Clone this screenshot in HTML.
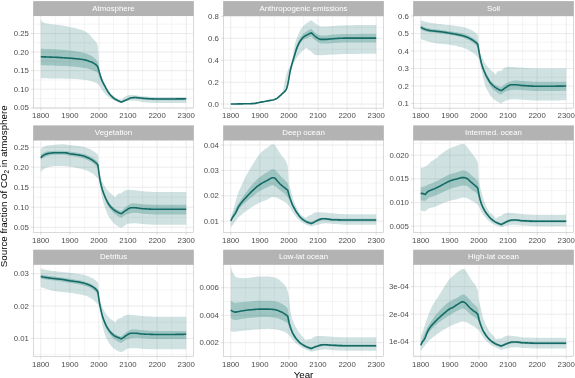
<!DOCTYPE html><html><head><meta charset="utf-8"><style>html,body{margin:0;padding:0;background:#fff}svg{display:block;will-change:transform}text{font-family:"Liberation Sans",sans-serif}</style></head><body>
<svg width="575" height="378" viewBox="0 0 575 378">
<rect width="575" height="378" fill="#fff"/>
<clipPath id="c00"><rect x="33.50" y="15.70" width="160.00" height="92.40"/></clipPath>
<rect x="33.15" y="1.10" width="160.70" height="14.95" fill="#b3b3b3"/>
<text x="113.50" y="10.70" font-size="7.9" fill="#fff" text-anchor="middle">Atmosphere</text>
<g clip-path="url(#c00)">
<line x1="55.32" x2="55.32" y1="15.70" y2="108.10" stroke="#e6e6e6" stroke-width="0.4"/>
<line x1="84.41" x2="84.41" y1="15.70" y2="108.10" stroke="#e6e6e6" stroke-width="0.4"/>
<line x1="113.50" x2="113.50" y1="15.70" y2="108.10" stroke="#e6e6e6" stroke-width="0.4"/>
<line x1="142.59" x2="142.59" y1="15.70" y2="108.10" stroke="#e6e6e6" stroke-width="0.4"/>
<line x1="171.68" x2="171.68" y1="15.70" y2="108.10" stroke="#e6e6e6" stroke-width="0.4"/>
<line x1="33.50" x2="193.50" y1="24.20" y2="24.20" stroke="#e6e6e6" stroke-width="0.4"/>
<line x1="33.50" x2="193.50" y1="42.80" y2="42.80" stroke="#e6e6e6" stroke-width="0.4"/>
<line x1="33.50" x2="193.50" y1="61.40" y2="61.40" stroke="#e6e6e6" stroke-width="0.4"/>
<line x1="33.50" x2="193.50" y1="80.00" y2="80.00" stroke="#e6e6e6" stroke-width="0.4"/>
<line x1="33.50" x2="193.50" y1="98.50" y2="98.50" stroke="#e6e6e6" stroke-width="0.4"/>
<line x1="40.77" x2="40.77" y1="15.70" y2="108.10" stroke="#e0e0e0" stroke-width="0.65"/>
<line x1="69.86" x2="69.86" y1="15.70" y2="108.10" stroke="#e0e0e0" stroke-width="0.65"/>
<line x1="98.95" x2="98.95" y1="15.70" y2="108.10" stroke="#e0e0e0" stroke-width="0.65"/>
<line x1="128.04" x2="128.04" y1="15.70" y2="108.10" stroke="#e0e0e0" stroke-width="0.65"/>
<line x1="157.13" x2="157.13" y1="15.70" y2="108.10" stroke="#e0e0e0" stroke-width="0.65"/>
<line x1="186.23" x2="186.23" y1="15.70" y2="108.10" stroke="#e0e0e0" stroke-width="0.65"/>
<line x1="33.50" x2="193.50" y1="33.50" y2="33.50" stroke="#e0e0e0" stroke-width="0.65"/>
<line x1="33.50" x2="193.50" y1="52.10" y2="52.10" stroke="#e0e0e0" stroke-width="0.65"/>
<line x1="33.50" x2="193.50" y1="70.70" y2="70.70" stroke="#e0e0e0" stroke-width="0.65"/>
<line x1="33.50" x2="193.50" y1="89.20" y2="89.20" stroke="#e0e0e0" stroke-width="0.65"/>
<line x1="33.50" x2="193.50" y1="107.80" y2="107.80" stroke="#e0e0e0" stroke-width="0.65"/>
<path d="M40.8 19.6 L41.9 21.4 L43.1 22.2 L44.3 22.7 L45.4 23.1 L46.6 23.4 L47.8 23.6 L48.9 23.8 L50.1 24.0 L51.2 24.2 L52.4 24.3 L53.6 24.4 L54.7 24.5 L55.9 24.7 L57.1 24.8 L58.2 24.9 L59.4 25.1 L60.6 25.2 L61.7 25.4 L62.9 25.5 L64.0 25.8 L65.2 26.0 L66.4 26.3 L67.5 26.6 L68.7 26.8 L69.9 27.1 L71.0 27.4 L72.2 27.6 L73.4 27.8 L74.5 28.1 L75.7 28.3 L76.8 28.6 L78.0 28.9 L79.2 29.2 L80.3 29.5 L81.5 29.8 L82.7 30.2 L83.8 30.7 L85.0 31.2 L86.2 31.9 L87.3 32.8 L88.5 33.7 L89.6 34.8 L90.8 36.1 L92.0 37.4 L93.1 38.7 L94.3 40.0 L95.5 41.4 L96.6 42.7 L97.8 45.9 L98.4 54.0 L99.5 71.0 L100.7 74.5 L101.9 76.8 L103.0 79.6 L104.2 82.3 L105.4 84.7 L106.5 87.0 L107.7 89.0 L108.8 90.8 L110.0 92.5 L111.2 93.9 L112.3 95.0 L113.5 96.0 L114.7 96.8 L115.8 97.6 L117.0 98.3 L118.2 98.9 L119.3 99.4 L120.5 99.6 L121.6 99.4 L122.8 98.6 L124.0 97.6 L125.1 96.7 L126.3 96.0 L127.5 95.5 L128.6 95.2 L129.8 95.1 L131.0 95.0 L132.1 95.0 L133.3 95.1 L134.4 95.2 L135.6 95.3 L136.8 95.5 L137.9 95.6 L139.1 95.8 L140.3 96.0 L141.4 96.2 L142.6 96.3 L143.8 96.4 L144.9 96.5 L146.1 96.6 L147.2 96.6 L148.4 96.7 L149.6 96.8 L150.7 96.8 L151.9 96.9 L153.1 96.9 L154.2 97.0 L155.4 97.0 L156.6 97.0 L157.7 97.0 L158.9 97.0 L160.0 97.0 L161.2 97.0 L162.4 97.0 L163.5 97.0 L164.7 97.0 L165.9 97.0 L167.0 97.0 L168.2 97.0 L169.4 97.0 L170.5 97.0 L171.7 97.0 L172.8 97.0 L174.0 97.0 L175.2 97.0 L176.3 97.0 L177.5 97.0 L178.7 97.0 L179.8 97.0 L181.0 97.0 L182.2 97.0 L183.3 97.0 L184.5 97.0 L185.6 97.0 L186.2 97.0 L186.2 103.0 L185.6 103.0 L184.5 103.0 L183.3 103.0 L182.2 103.0 L181.0 103.0 L179.8 103.0 L178.7 103.0 L177.5 103.0 L176.3 103.0 L175.2 103.0 L174.0 103.0 L172.8 103.0 L171.7 103.0 L170.5 103.0 L169.4 103.0 L168.2 103.0 L167.0 103.0 L165.9 103.0 L164.7 103.0 L163.5 103.0 L162.4 103.0 L161.2 103.0 L160.0 103.0 L158.9 103.0 L157.7 103.0 L156.6 103.0 L155.4 103.0 L154.2 102.9 L153.1 102.9 L151.9 102.8 L150.7 102.7 L149.6 102.7 L148.4 102.6 L147.2 102.5 L146.1 102.4 L144.9 102.2 L143.8 102.1 L142.6 102.0 L141.4 101.8 L140.3 101.6 L139.1 101.3 L137.9 101.1 L136.8 100.9 L135.6 100.8 L134.4 100.8 L133.3 100.8 L132.1 100.8 L131.0 100.8 L129.8 100.8 L128.6 100.8 L127.5 100.8 L126.3 101.0 L125.1 101.4 L124.0 102.0 L122.8 102.6 L121.6 103.2 L121.1 103.1 L119.9 102.8 L118.7 102.4 L117.6 102.0 L116.4 101.5 L115.2 101.0 L114.1 100.5 L112.9 99.9 L111.8 99.2 L110.6 98.5 L109.4 97.7 L108.3 96.8 L107.1 95.8 L105.9 94.7 L104.8 93.5 L103.6 92.1 L102.4 90.5 L101.3 88.8 L100.1 86.8 L99.0 85.2 L97.8 84.1 L96.6 83.3 L95.5 82.7 L94.3 82.2 L93.1 81.7 L92.0 81.4 L90.8 81.1 L89.6 80.8 L88.5 80.5 L87.3 80.2 L86.2 80.0 L85.0 79.9 L83.8 79.7 L82.7 79.6 L81.5 79.5 L80.3 79.4 L79.2 79.3 L78.0 79.2 L76.8 79.1 L75.7 79.1 L74.5 79.0 L73.4 78.9 L72.2 78.9 L71.0 78.8 L69.9 78.8 L68.7 78.8 L67.5 78.7 L66.4 78.7 L65.2 78.7 L64.0 78.7 L62.9 78.6 L61.7 78.6 L60.6 78.6 L59.4 78.6 L58.2 78.6 L57.1 78.5 L55.9 78.5 L54.7 78.5 L53.6 78.5 L52.4 78.4 L51.2 78.4 L50.1 78.4 L48.9 78.4 L47.8 78.3 L46.6 78.3 L45.4 78.3 L44.3 78.3 L43.1 78.2 L41.9 78.2 L40.8 78.2 Z" fill="#1b7570" fill-opacity="0.21"/>
<path d="M40.8 48.8 L41.9 48.8 L43.1 48.8 L44.3 48.9 L45.4 48.9 L46.6 48.9 L47.8 49.0 L48.9 49.0 L50.1 49.1 L51.2 49.1 L52.4 49.2 L53.6 49.2 L54.7 49.3 L55.9 49.3 L57.1 49.4 L58.2 49.5 L59.4 49.5 L60.6 49.6 L61.7 49.7 L62.9 49.8 L64.0 49.9 L65.2 50.0 L66.4 50.1 L67.5 50.2 L68.7 50.4 L69.9 50.5 L71.0 50.6 L72.2 50.8 L73.4 50.9 L74.5 51.1 L75.7 51.3 L76.8 51.4 L78.0 51.6 L79.2 51.9 L80.3 52.1 L81.5 52.3 L82.7 52.6 L83.8 52.9 L85.0 53.2 L86.2 53.5 L87.3 53.9 L88.5 54.4 L89.6 54.9 L90.8 55.5 L92.0 56.2 L93.1 57.0 L94.3 57.9 L95.5 59.1 L96.6 60.4 L97.8 62.6 L99.0 67.5 L100.1 72.2 L101.3 76.7 L102.4 80.0 L103.6 82.5 L104.8 84.8 L105.9 87.1 L107.1 89.2 L108.3 91.1 L109.4 92.8 L110.6 94.2 L111.8 95.5 L112.9 96.6 L114.1 97.4 L115.2 98.2 L116.4 98.9 L117.6 99.6 L118.7 100.1 L119.9 100.6 L121.1 100.9 L121.6 101.0 L122.8 100.4 L124.0 99.9 L125.1 99.4 L126.3 98.9 L127.5 98.5 L128.6 98.1 L129.8 97.7 L131.0 97.4 L132.1 97.1 L133.3 96.8 L134.4 96.6 L135.6 96.6 L136.8 96.7 L137.9 96.8 L139.1 97.0 L140.3 97.1 L141.4 97.3 L142.6 97.4 L143.8 97.5 L144.9 97.5 L146.1 97.6 L147.2 97.7 L148.4 97.7 L149.6 97.8 L150.7 97.9 L151.9 97.9 L153.1 97.9 L154.2 98.0 L155.4 98.0 L156.6 98.0 L157.7 98.0 L158.9 98.0 L160.0 98.0 L161.2 98.0 L162.4 98.0 L163.5 98.0 L164.7 98.0 L165.9 98.0 L167.0 98.0 L168.2 98.0 L169.4 98.0 L170.5 98.0 L171.7 98.0 L172.8 98.0 L174.0 98.0 L175.2 98.0 L176.3 98.0 L177.5 98.0 L178.7 98.0 L179.8 98.0 L181.0 98.0 L182.2 98.0 L183.3 98.0 L184.5 98.0 L185.6 98.0 L186.2 98.0 L186.2 100.3 L185.6 100.3 L184.5 100.3 L183.3 100.3 L182.2 100.3 L181.0 100.3 L179.8 100.3 L178.7 100.3 L177.5 100.3 L176.3 100.3 L175.2 100.3 L174.0 100.3 L172.8 100.3 L171.7 100.3 L170.5 100.3 L169.4 100.3 L168.2 100.3 L167.0 100.3 L165.9 100.3 L164.7 100.3 L163.5 100.3 L162.4 100.3 L161.2 100.3 L160.0 100.3 L158.9 100.3 L157.7 100.3 L156.6 100.3 L155.4 100.3 L154.2 100.2 L153.1 100.2 L151.9 100.1 L150.7 100.1 L149.6 100.0 L148.4 99.9 L147.2 99.8 L146.1 99.7 L144.9 99.6 L143.8 99.5 L142.6 99.4 L141.4 99.3 L140.3 99.1 L139.1 98.9 L137.9 98.7 L136.8 98.6 L135.6 98.5 L134.4 98.5 L133.3 98.6 L132.1 98.8 L131.0 99.1 L129.8 99.4 L128.6 99.7 L127.5 100.0 L126.3 100.4 L125.1 100.8 L124.0 101.4 L122.8 102.0 L121.6 102.6 L121.1 102.5 L119.9 102.2 L118.7 101.7 L117.6 101.2 L116.4 100.6 L115.2 99.9 L114.1 99.2 L112.9 98.4 L111.8 97.4 L110.6 96.2 L109.4 94.9 L108.3 93.3 L107.1 91.6 L105.9 89.6 L104.8 87.5 L103.6 85.6 L102.4 83.6 L101.3 81.3 L100.1 78.7 L99.0 76.0 L97.8 73.1 L96.6 72.1 L95.5 71.5 L94.3 70.9 L93.1 70.4 L92.0 69.9 L90.8 69.5 L89.6 69.2 L88.5 68.9 L87.3 68.6 L86.2 68.3 L85.0 68.1 L83.8 67.9 L82.7 67.7 L81.5 67.5 L80.3 67.4 L79.2 67.2 L78.0 67.1 L76.8 66.9 L75.7 66.8 L74.5 66.7 L73.4 66.6 L72.2 66.5 L71.0 66.4 L69.9 66.3 L68.7 66.2 L67.5 66.2 L66.4 66.1 L65.2 66.1 L64.0 66.0 L62.9 66.0 L61.7 65.9 L60.6 65.9 L59.4 65.8 L58.2 65.8 L57.1 65.8 L55.9 65.7 L54.7 65.7 L53.6 65.6 L52.4 65.6 L51.2 65.6 L50.1 65.5 L48.9 65.5 L47.8 65.4 L46.6 65.4 L45.4 65.3 L44.3 65.3 L43.1 65.3 L41.9 65.2 L40.8 65.2 Z" fill="#1b7570" fill-opacity="0.27"/>
<path d="M40.8 56.8 L41.9 56.8 L43.1 56.9 L44.3 56.9 L45.4 56.9 L46.6 57.0 L47.8 57.0 L48.9 57.0 L50.1 57.1 L51.2 57.1 L52.4 57.2 L53.6 57.2 L54.7 57.3 L55.9 57.3 L57.1 57.4 L58.2 57.4 L59.4 57.5 L60.6 57.6 L61.7 57.6 L62.9 57.7 L64.0 57.8 L65.2 57.9 L66.4 58.0 L67.5 58.0 L68.7 58.1 L69.9 58.2 L71.0 58.3 L72.2 58.4 L73.4 58.5 L74.5 58.6 L75.7 58.7 L76.8 58.8 L78.0 58.9 L79.2 59.0 L80.3 59.2 L81.5 59.3 L82.7 59.5 L83.8 59.7 L85.0 59.9 L86.2 60.2 L87.3 60.5 L88.5 60.9 L89.6 61.4 L90.8 61.8 L92.0 62.3 L93.1 62.9 L94.3 63.6 L95.5 64.4 L96.6 65.3 L97.8 66.9 L99.0 71.0 L100.1 74.9 L101.3 78.6 L102.4 81.5 L103.6 83.8 L104.8 86.0 L105.9 88.2 L107.1 90.4 L108.3 92.2 L109.4 93.8 L110.6 95.2 L111.8 96.4 L112.9 97.5 L114.1 98.4 L115.2 99.2 L116.4 99.8 L117.6 100.4 L118.7 100.9 L119.9 101.5 L121.1 101.9 L121.6 102.1 L122.8 101.4 L124.0 100.9 L125.1 100.4 L126.3 99.9 L127.5 99.5 L128.6 98.9 L129.8 98.2 L131.0 97.8 L132.1 97.7 L133.3 97.6 L134.4 97.5 L135.6 97.5 L136.8 97.6 L137.9 97.7 L139.1 97.9 L140.3 98.0 L141.4 98.2 L142.6 98.3 L143.8 98.4 L144.9 98.5 L146.1 98.5 L147.2 98.6 L148.4 98.7 L149.6 98.8 L150.7 98.8 L151.9 98.9 L153.1 98.9 L154.2 99.0 L155.4 99.0 L156.6 99.0 L157.7 99.0 L158.9 99.0 L160.0 99.0 L161.2 99.0 L162.4 99.0 L163.5 99.0 L164.7 99.0 L165.9 99.0 L167.0 99.0 L168.2 99.0 L169.4 99.0 L170.5 99.0 L171.7 99.0 L172.8 99.0 L174.0 99.0 L175.2 99.0 L176.3 98.9 L177.5 98.9 L178.7 98.9 L179.8 98.9 L181.0 98.9 L182.2 98.9 L183.3 98.9 L184.5 98.8 L185.6 98.8 L186.2 98.8" fill="none" stroke="#146b66" stroke-width="1.6" stroke-linejoin="round"/>
</g>
<rect x="33.50" y="15.70" width="160.00" height="92.40" fill="none" stroke="#b3b3b3" stroke-width="0.5"/>
<line x1="30.90" x2="33.50" y1="33.50" y2="33.50" stroke="#b3b3b3" stroke-width="0.4"/>
<text x="28.90" y="36.15" font-size="7.8" fill="#4d4d4d" text-anchor="end">0.25</text>
<line x1="30.90" x2="33.50" y1="52.10" y2="52.10" stroke="#b3b3b3" stroke-width="0.4"/>
<text x="28.90" y="54.75" font-size="7.8" fill="#4d4d4d" text-anchor="end">0.20</text>
<line x1="30.90" x2="33.50" y1="70.70" y2="70.70" stroke="#b3b3b3" stroke-width="0.4"/>
<text x="28.90" y="73.35" font-size="7.8" fill="#4d4d4d" text-anchor="end">0.15</text>
<line x1="30.90" x2="33.50" y1="89.20" y2="89.20" stroke="#b3b3b3" stroke-width="0.4"/>
<text x="28.90" y="91.85" font-size="7.8" fill="#4d4d4d" text-anchor="end">0.10</text>
<line x1="30.90" x2="33.50" y1="107.80" y2="107.80" stroke="#b3b3b3" stroke-width="0.4"/>
<text x="28.90" y="110.45" font-size="7.8" fill="#4d4d4d" text-anchor="end">0.05</text>
<line x1="40.77" x2="40.77" y1="108.10" y2="110.70" stroke="#b3b3b3" stroke-width="0.4"/>
<text x="40.77" y="118.40" font-size="7.8" fill="#4d4d4d" text-anchor="middle">1800</text>
<line x1="69.86" x2="69.86" y1="108.10" y2="110.70" stroke="#b3b3b3" stroke-width="0.4"/>
<text x="69.86" y="118.40" font-size="7.8" fill="#4d4d4d" text-anchor="middle">1900</text>
<line x1="98.95" x2="98.95" y1="108.10" y2="110.70" stroke="#b3b3b3" stroke-width="0.4"/>
<text x="98.95" y="118.40" font-size="7.8" fill="#4d4d4d" text-anchor="middle">2000</text>
<line x1="128.04" x2="128.04" y1="108.10" y2="110.70" stroke="#b3b3b3" stroke-width="0.4"/>
<text x="128.04" y="118.40" font-size="7.8" fill="#4d4d4d" text-anchor="middle">2100</text>
<line x1="157.13" x2="157.13" y1="108.10" y2="110.70" stroke="#b3b3b3" stroke-width="0.4"/>
<text x="157.13" y="118.40" font-size="7.8" fill="#4d4d4d" text-anchor="middle">2200</text>
<line x1="186.23" x2="186.23" y1="108.10" y2="110.70" stroke="#b3b3b3" stroke-width="0.4"/>
<text x="186.23" y="118.40" font-size="7.8" fill="#4d4d4d" text-anchor="middle">2300</text>
<clipPath id="c10"><rect x="223.50" y="15.70" width="160.00" height="92.40"/></clipPath>
<rect x="223.15" y="1.10" width="160.70" height="14.95" fill="#b3b3b3"/>
<text x="303.50" y="10.70" font-size="7.9" fill="#fff" text-anchor="middle">Anthropogenic emissions</text>
<g clip-path="url(#c10)">
<line x1="245.32" x2="245.32" y1="15.70" y2="108.10" stroke="#e6e6e6" stroke-width="0.4"/>
<line x1="274.41" x2="274.41" y1="15.70" y2="108.10" stroke="#e6e6e6" stroke-width="0.4"/>
<line x1="303.50" x2="303.50" y1="15.70" y2="108.10" stroke="#e6e6e6" stroke-width="0.4"/>
<line x1="332.59" x2="332.59" y1="15.70" y2="108.10" stroke="#e6e6e6" stroke-width="0.4"/>
<line x1="361.68" x2="361.68" y1="15.70" y2="108.10" stroke="#e6e6e6" stroke-width="0.4"/>
<line x1="223.50" x2="383.50" y1="27.30" y2="27.30" stroke="#e6e6e6" stroke-width="0.4"/>
<line x1="223.50" x2="383.50" y1="49.20" y2="49.20" stroke="#e6e6e6" stroke-width="0.4"/>
<line x1="223.50" x2="383.50" y1="71.20" y2="71.20" stroke="#e6e6e6" stroke-width="0.4"/>
<line x1="223.50" x2="383.50" y1="93.10" y2="93.10" stroke="#e6e6e6" stroke-width="0.4"/>
<line x1="230.77" x2="230.77" y1="15.70" y2="108.10" stroke="#e0e0e0" stroke-width="0.65"/>
<line x1="259.86" x2="259.86" y1="15.70" y2="108.10" stroke="#e0e0e0" stroke-width="0.65"/>
<line x1="288.95" x2="288.95" y1="15.70" y2="108.10" stroke="#e0e0e0" stroke-width="0.65"/>
<line x1="318.04" x2="318.04" y1="15.70" y2="108.10" stroke="#e0e0e0" stroke-width="0.65"/>
<line x1="347.13" x2="347.13" y1="15.70" y2="108.10" stroke="#e0e0e0" stroke-width="0.65"/>
<line x1="376.23" x2="376.23" y1="15.70" y2="108.10" stroke="#e0e0e0" stroke-width="0.65"/>
<line x1="223.50" x2="383.50" y1="16.30" y2="16.30" stroke="#e0e0e0" stroke-width="0.65"/>
<line x1="223.50" x2="383.50" y1="38.25" y2="38.25" stroke="#e0e0e0" stroke-width="0.65"/>
<line x1="223.50" x2="383.50" y1="60.20" y2="60.20" stroke="#e0e0e0" stroke-width="0.65"/>
<line x1="223.50" x2="383.50" y1="82.20" y2="82.20" stroke="#e0e0e0" stroke-width="0.65"/>
<line x1="223.50" x2="383.50" y1="104.10" y2="104.10" stroke="#e0e0e0" stroke-width="0.65"/>
<path d="M230.8 103.5 L231.9 103.5 L233.1 103.5 L234.3 103.5 L235.4 103.5 L236.6 103.5 L237.8 103.5 L238.9 103.4 L240.1 103.4 L241.2 103.4 L242.4 103.4 L243.6 103.4 L244.7 103.3 L245.9 103.3 L247.1 103.3 L248.2 103.2 L249.4 103.2 L250.6 103.1 L251.7 103.1 L252.9 103.1 L254.0 103.0 L255.2 102.9 L256.4 102.7 L257.5 102.4 L258.7 102.1 L259.9 101.8 L261.0 101.6 L262.2 101.4 L263.4 101.2 L264.5 101.0 L265.7 100.8 L266.8 100.6 L268.0 100.4 L269.2 100.2 L270.3 99.9 L271.5 99.7 L272.7 99.3 L273.8 99.0 L275.0 98.6 L276.2 97.9 L277.3 97.2 L278.5 96.2 L279.6 95.3 L280.8 94.4 L282.0 93.3 L283.1 90.5 L284.3 84.0 L285.5 77.9 L286.6 73.6 L287.8 70.5 L288.7 68.8 L289.8 66.7 L291.0 64.1 L292.2 60.2 L293.3 52.9 L294.5 45.2 L295.6 41.2 L296.8 38.0 L298.0 35.2 L299.1 32.5 L300.3 30.1 L301.5 28.3 L302.6 26.8 L303.8 25.6 L305.0 24.5 L306.1 23.6 L307.3 22.8 L308.4 22.0 L309.6 21.2 L310.8 20.6 L311.4 20.2 L312.5 21.2 L313.7 22.1 L314.8 23.0 L316.0 23.9 L317.2 24.7 L318.3 25.4 L319.5 26.0 L320.7 26.4 L321.8 26.5 L323.0 26.5 L324.2 26.6 L325.3 26.6 L326.5 26.6 L327.6 26.5 L328.8 26.4 L330.0 26.2 L331.1 26.1 L332.3 26.0 L333.5 25.9 L334.6 25.9 L335.8 25.8 L337.0 25.7 L338.1 25.6 L339.3 25.6 L340.4 25.5 L341.6 25.4 L342.8 25.4 L343.9 25.3 L345.1 25.3 L346.3 25.3 L347.4 25.2 L348.6 25.2 L349.8 25.2 L350.9 25.2 L352.1 25.2 L353.2 25.2 L354.4 25.1 L355.6 25.1 L356.7 25.1 L357.9 25.1 L359.1 25.1 L360.2 25.1 L361.4 25.1 L362.6 25.1 L363.7 25.0 L364.9 25.0 L366.0 25.0 L367.2 25.0 L368.4 25.0 L369.5 25.0 L370.7 25.0 L371.9 25.0 L373.0 25.0 L374.2 25.0 L375.4 25.0 L376.2 25.0 L376.2 53.8 L375.4 53.8 L374.2 53.8 L373.0 53.8 L371.9 53.8 L370.7 53.8 L369.5 53.8 L368.4 53.8 L367.2 53.8 L366.0 53.8 L364.9 53.8 L363.7 53.8 L362.6 53.8 L361.4 53.8 L360.2 53.8 L359.1 53.8 L357.9 53.9 L356.7 53.9 L355.6 53.9 L354.4 53.9 L353.2 53.9 L352.1 53.9 L350.9 53.9 L349.8 54.0 L348.6 54.0 L347.4 54.0 L346.3 54.0 L345.1 54.0 L343.9 54.1 L342.8 54.1 L341.6 54.2 L340.4 54.2 L339.3 54.3 L338.1 54.3 L337.0 54.4 L335.8 54.4 L334.6 54.5 L333.5 54.6 L332.3 54.6 L331.1 54.7 L330.0 54.7 L328.8 54.8 L327.6 54.9 L326.5 54.9 L325.3 55.0 L324.2 55.1 L323.0 55.2 L321.8 55.2 L320.7 55.2 L319.5 55.2 L318.3 55.2 L317.2 55.2 L316.0 55.2 L314.8 54.7 L313.7 54.0 L312.5 53.0 L311.4 51.5 L311.1 51.4 L309.9 50.8 L308.7 50.0 L307.6 49.0 L306.4 47.8 L305.2 48.4 L304.1 49.7 L302.9 50.8 L301.8 51.8 L300.6 53.0 L299.4 54.3 L298.3 55.7 L297.1 57.3 L295.9 58.9 L294.8 60.9 L293.6 63.8 L292.4 66.6 L291.3 69.5 L290.1 73.6 L289.0 80.0 L287.8 86.0 L286.6 89.6 L285.5 91.7 L284.3 93.0 L283.1 94.1 L282.0 95.1 L280.8 96.0 L279.6 97.0 L278.5 97.9 L277.3 98.7 L276.2 99.4 L275.0 100.0 L273.8 100.4 L272.7 100.7 L271.5 101.0 L270.3 101.3 L269.2 101.5 L268.0 101.7 L266.8 101.9 L265.7 102.1 L264.5 102.3 L263.4 102.4 L262.2 102.6 L261.0 102.7 L259.9 102.8 L258.7 102.9 L257.5 103.0 L256.4 103.1 L255.2 103.2 L254.0 103.3 L252.9 103.4 L251.7 103.5 L250.6 103.6 L249.4 103.7 L248.2 103.8 L247.1 103.9 L245.9 104.0 L244.7 104.0 L243.6 104.1 L242.4 104.2 L241.2 104.2 L240.1 104.3 L238.9 104.3 L237.8 104.4 L236.6 104.4 L235.4 104.4 L234.3 104.5 L233.1 104.5 L231.9 104.5 L230.8 104.5 Z" fill="#1b7570" fill-opacity="0.21"/>
<path d="M230.8 103.7 L231.9 103.7 L233.1 103.7 L234.3 103.7 L235.4 103.6 L236.6 103.6 L237.8 103.6 L238.9 103.5 L240.1 103.5 L241.2 103.4 L242.4 103.4 L243.6 103.3 L244.7 103.2 L245.9 103.2 L247.1 103.1 L248.2 103.0 L249.4 102.9 L250.6 102.8 L251.7 102.7 L252.9 102.6 L254.0 102.5 L255.2 102.4 L256.4 102.3 L257.5 102.2 L258.7 102.1 L259.9 102.0 L261.0 101.9 L262.2 101.7 L263.4 101.6 L264.5 101.4 L265.7 101.2 L266.8 101.0 L268.0 100.8 L269.2 100.5 L270.3 100.2 L271.5 99.9 L272.7 99.6 L273.8 99.2 L275.0 98.8 L276.2 98.2 L277.3 97.5 L278.5 96.7 L279.6 95.7 L280.8 94.8 L282.0 93.7 L283.1 92.7 L284.3 91.6 L285.5 90.0 L286.6 87.5 L287.8 83.0 L289.0 76.5 L290.1 69.9 L291.3 65.0 L292.4 60.7 L293.6 56.4 L294.8 52.0 L295.9 47.8 L297.1 44.0 L298.3 41.2 L299.4 39.0 L300.6 37.1 L301.8 35.4 L302.9 34.0 L304.1 32.9 L305.2 32.2 L306.4 31.5 L307.6 30.8 L308.7 30.1 L309.9 29.5 L311.1 28.9 L311.4 28.8 L312.5 30.1 L313.7 31.2 L314.8 32.3 L316.0 33.3 L317.2 34.2 L318.3 34.7 L319.5 35.1 L320.7 35.4 L321.8 35.4 L323.0 35.5 L324.2 35.5 L325.3 35.5 L326.5 35.4 L327.6 35.3 L328.8 35.1 L330.0 34.9 L331.1 34.8 L332.3 34.6 L333.5 34.5 L334.6 34.5 L335.8 34.4 L337.0 34.3 L338.1 34.3 L339.3 34.2 L340.4 34.2 L341.6 34.1 L342.8 34.1 L343.9 34.1 L345.1 34.0 L346.3 34.0 L347.4 34.0 L348.6 34.0 L349.8 34.0 L350.9 33.9 L352.1 33.9 L353.2 33.9 L354.4 33.9 L355.6 33.9 L356.7 33.9 L357.9 33.9 L359.1 33.8 L360.2 33.8 L361.4 33.8 L362.6 33.8 L363.7 33.8 L364.9 33.8 L366.0 33.8 L367.2 33.8 L368.4 33.8 L369.5 33.8 L370.7 33.8 L371.9 33.8 L373.0 33.8 L374.2 33.8 L375.4 33.8 L376.2 33.8 L376.2 42.5 L375.4 42.5 L374.2 42.5 L373.0 42.5 L371.9 42.5 L370.7 42.5 L369.5 42.5 L368.4 42.5 L367.2 42.5 L366.0 42.5 L364.9 42.5 L363.7 42.5 L362.6 42.5 L361.4 42.5 L360.2 42.5 L359.1 42.5 L357.9 42.5 L356.7 42.5 L355.6 42.5 L354.4 42.5 L353.2 42.5 L352.1 42.5 L350.9 42.5 L349.8 42.5 L348.6 42.5 L347.4 42.5 L346.3 42.5 L345.1 42.5 L343.9 42.5 L342.8 42.6 L341.6 42.6 L340.4 42.7 L339.3 42.7 L338.1 42.8 L337.0 42.9 L335.8 42.9 L334.6 43.0 L333.5 43.1 L332.3 43.1 L331.1 43.2 L330.0 43.3 L328.8 43.4 L327.6 43.4 L326.5 43.5 L325.3 43.5 L324.2 43.5 L323.0 43.5 L321.8 43.5 L320.7 43.5 L319.5 43.0 L318.3 42.3 L317.2 41.6 L316.0 40.8 L314.8 40.0 L313.7 39.0 L312.5 37.8 L311.4 36.3 L311.1 36.4 L309.9 36.9 L308.7 37.4 L307.6 37.9 L306.4 38.4 L305.2 38.8 L304.1 39.3 L302.9 40.0 L301.8 41.2 L300.6 42.8 L299.4 44.9 L298.3 47.6 L297.1 50.5 L295.9 53.7 L294.8 57.0 L293.6 60.4 L292.4 64.0 L291.3 68.0 L290.1 72.9 L289.0 79.5 L287.8 85.5 L286.6 89.2 L285.5 91.4 L284.3 92.8 L283.1 93.8 L282.0 94.8 L280.8 95.7 L279.6 96.7 L278.5 97.7 L277.3 98.5 L276.2 99.2 L275.0 99.8 L273.8 100.2 L272.7 100.5 L271.5 100.8 L270.3 101.1 L269.2 101.3 L268.0 101.5 L266.8 101.7 L265.7 101.9 L264.5 102.1 L263.4 102.2 L262.2 102.4 L261.0 102.5 L259.9 102.6 L258.7 102.7 L257.5 102.8 L256.4 102.9 L255.2 103.0 L254.0 103.1 L252.9 103.2 L251.7 103.3 L250.6 103.4 L249.4 103.5 L248.2 103.6 L247.1 103.7 L245.9 103.8 L244.7 103.8 L243.6 103.9 L242.4 104.0 L241.2 104.0 L240.1 104.1 L238.9 104.1 L237.8 104.2 L236.6 104.2 L235.4 104.2 L234.3 104.3 L233.1 104.3 L231.9 104.3 L230.8 104.3 Z" fill="#1b7570" fill-opacity="0.27"/>
<path d="M230.8 104.0 L231.9 104.0 L233.1 104.0 L234.3 104.0 L235.4 104.0 L236.6 104.0 L237.8 103.9 L238.9 103.9 L240.1 103.9 L241.2 103.9 L242.4 103.9 L243.6 103.8 L244.7 103.8 L245.9 103.8 L247.1 103.8 L248.2 103.7 L249.4 103.7 L250.6 103.7 L251.7 103.6 L252.9 103.6 L254.0 103.5 L255.2 103.4 L256.4 103.1 L257.5 102.8 L258.7 102.6 L259.9 102.3 L261.0 102.1 L262.2 101.9 L263.4 101.7 L264.5 101.5 L265.7 101.3 L266.8 101.1 L268.0 100.8 L269.2 100.6 L270.3 100.4 L271.5 100.2 L272.7 100.0 L273.8 99.7 L275.0 99.3 L276.2 98.8 L277.3 98.1 L278.5 97.2 L279.6 96.1 L280.8 95.1 L282.0 93.9 L283.1 92.8 L284.3 91.8 L285.5 90.7 L286.6 88.9 L287.8 84.4 L289.0 78.1 L290.1 71.4 L291.3 66.5 L292.4 62.4 L293.6 58.4 L294.8 54.5 L295.9 50.8 L297.1 47.3 L298.3 44.6 L299.4 42.4 L300.6 40.5 L301.8 38.9 L302.9 37.6 L304.1 36.7 L305.2 35.9 L306.4 35.2 L307.6 34.6 L308.7 34.0 L309.9 33.4 L311.1 32.9 L311.4 32.8 L312.5 33.9 L313.7 35.0 L314.8 36.0 L316.0 37.0 L317.2 37.9 L318.3 38.5 L319.5 39.1 L320.7 39.4 L321.8 39.4 L323.0 39.4 L324.2 39.4 L325.3 39.4 L326.5 39.4 L327.6 39.3 L328.8 39.1 L330.0 39.0 L331.1 38.9 L332.3 38.8 L333.5 38.7 L334.6 38.6 L335.8 38.5 L337.0 38.5 L338.1 38.4 L339.3 38.3 L340.4 38.3 L341.6 38.2 L342.8 38.2 L343.9 38.1 L345.1 38.1 L346.3 38.1 L347.4 38.1 L348.6 38.1 L349.8 38.1 L350.9 38.1 L352.1 38.1 L353.2 38.1 L354.4 38.1 L355.6 38.1 L356.7 38.1 L357.9 38.1 L359.1 38.1 L360.2 38.1 L361.4 38.1 L362.6 38.1 L363.7 38.1 L364.9 38.1 L366.0 38.1 L367.2 38.1 L368.4 38.1 L369.5 38.1 L370.7 38.1 L371.9 38.1 L373.0 38.1 L374.2 38.1 L375.4 38.1 L376.2 38.1" fill="none" stroke="#146b66" stroke-width="1.6" stroke-linejoin="round"/>
</g>
<rect x="223.50" y="15.70" width="160.00" height="92.40" fill="none" stroke="#b3b3b3" stroke-width="0.5"/>
<line x1="220.90" x2="223.50" y1="16.30" y2="16.30" stroke="#b3b3b3" stroke-width="0.4"/>
<text x="218.90" y="18.95" font-size="7.8" fill="#4d4d4d" text-anchor="end">0.8</text>
<line x1="220.90" x2="223.50" y1="38.25" y2="38.25" stroke="#b3b3b3" stroke-width="0.4"/>
<text x="218.90" y="40.90" font-size="7.8" fill="#4d4d4d" text-anchor="end">0.6</text>
<line x1="220.90" x2="223.50" y1="60.20" y2="60.20" stroke="#b3b3b3" stroke-width="0.4"/>
<text x="218.90" y="62.85" font-size="7.8" fill="#4d4d4d" text-anchor="end">0.4</text>
<line x1="220.90" x2="223.50" y1="82.20" y2="82.20" stroke="#b3b3b3" stroke-width="0.4"/>
<text x="218.90" y="84.85" font-size="7.8" fill="#4d4d4d" text-anchor="end">0.2</text>
<line x1="220.90" x2="223.50" y1="104.10" y2="104.10" stroke="#b3b3b3" stroke-width="0.4"/>
<text x="218.90" y="106.75" font-size="7.8" fill="#4d4d4d" text-anchor="end">0.0</text>
<line x1="230.77" x2="230.77" y1="108.10" y2="110.70" stroke="#b3b3b3" stroke-width="0.4"/>
<text x="230.77" y="118.40" font-size="7.8" fill="#4d4d4d" text-anchor="middle">1800</text>
<line x1="259.86" x2="259.86" y1="108.10" y2="110.70" stroke="#b3b3b3" stroke-width="0.4"/>
<text x="259.86" y="118.40" font-size="7.8" fill="#4d4d4d" text-anchor="middle">1900</text>
<line x1="288.95" x2="288.95" y1="108.10" y2="110.70" stroke="#b3b3b3" stroke-width="0.4"/>
<text x="288.95" y="118.40" font-size="7.8" fill="#4d4d4d" text-anchor="middle">2000</text>
<line x1="318.04" x2="318.04" y1="108.10" y2="110.70" stroke="#b3b3b3" stroke-width="0.4"/>
<text x="318.04" y="118.40" font-size="7.8" fill="#4d4d4d" text-anchor="middle">2100</text>
<line x1="347.13" x2="347.13" y1="108.10" y2="110.70" stroke="#b3b3b3" stroke-width="0.4"/>
<text x="347.13" y="118.40" font-size="7.8" fill="#4d4d4d" text-anchor="middle">2200</text>
<line x1="376.23" x2="376.23" y1="108.10" y2="110.70" stroke="#b3b3b3" stroke-width="0.4"/>
<text x="376.23" y="118.40" font-size="7.8" fill="#4d4d4d" text-anchor="middle">2300</text>
<clipPath id="c20"><rect x="413.50" y="15.70" width="160.00" height="92.40"/></clipPath>
<rect x="413.15" y="1.10" width="160.70" height="14.95" fill="#b3b3b3"/>
<text x="493.50" y="10.70" font-size="7.9" fill="#fff" text-anchor="middle">Soil</text>
<g clip-path="url(#c20)">
<line x1="435.32" x2="435.32" y1="15.70" y2="108.10" stroke="#e6e6e6" stroke-width="0.4"/>
<line x1="464.41" x2="464.41" y1="15.70" y2="108.10" stroke="#e6e6e6" stroke-width="0.4"/>
<line x1="493.50" x2="493.50" y1="15.70" y2="108.10" stroke="#e6e6e6" stroke-width="0.4"/>
<line x1="522.59" x2="522.59" y1="15.70" y2="108.10" stroke="#e6e6e6" stroke-width="0.4"/>
<line x1="551.68" x2="551.68" y1="15.70" y2="108.10" stroke="#e6e6e6" stroke-width="0.4"/>
<line x1="413.50" x2="573.50" y1="24.75" y2="24.75" stroke="#e6e6e6" stroke-width="0.4"/>
<line x1="413.50" x2="573.50" y1="42.25" y2="42.25" stroke="#e6e6e6" stroke-width="0.4"/>
<line x1="413.50" x2="573.50" y1="59.75" y2="59.75" stroke="#e6e6e6" stroke-width="0.4"/>
<line x1="413.50" x2="573.50" y1="77.25" y2="77.25" stroke="#e6e6e6" stroke-width="0.4"/>
<line x1="413.50" x2="573.50" y1="94.75" y2="94.75" stroke="#e6e6e6" stroke-width="0.4"/>
<line x1="420.77" x2="420.77" y1="15.70" y2="108.10" stroke="#e0e0e0" stroke-width="0.65"/>
<line x1="449.86" x2="449.86" y1="15.70" y2="108.10" stroke="#e0e0e0" stroke-width="0.65"/>
<line x1="478.95" x2="478.95" y1="15.70" y2="108.10" stroke="#e0e0e0" stroke-width="0.65"/>
<line x1="508.04" x2="508.04" y1="15.70" y2="108.10" stroke="#e0e0e0" stroke-width="0.65"/>
<line x1="537.13" x2="537.13" y1="15.70" y2="108.10" stroke="#e0e0e0" stroke-width="0.65"/>
<line x1="566.23" x2="566.23" y1="15.70" y2="108.10" stroke="#e0e0e0" stroke-width="0.65"/>
<line x1="413.50" x2="573.50" y1="16.00" y2="16.00" stroke="#e0e0e0" stroke-width="0.65"/>
<line x1="413.50" x2="573.50" y1="33.50" y2="33.50" stroke="#e0e0e0" stroke-width="0.65"/>
<line x1="413.50" x2="573.50" y1="51.00" y2="51.00" stroke="#e0e0e0" stroke-width="0.65"/>
<line x1="413.50" x2="573.50" y1="68.50" y2="68.50" stroke="#e0e0e0" stroke-width="0.65"/>
<line x1="413.50" x2="573.50" y1="86.00" y2="86.00" stroke="#e0e0e0" stroke-width="0.65"/>
<line x1="413.50" x2="573.50" y1="103.50" y2="103.50" stroke="#e0e0e0" stroke-width="0.65"/>
<path d="M420.8 20.3 L421.9 20.7 L423.1 21.0 L424.3 21.4 L425.4 21.7 L426.6 22.0 L427.8 22.2 L428.9 22.5 L430.1 22.7 L431.2 22.9 L432.4 23.1 L433.6 23.3 L434.7 23.4 L435.9 23.6 L437.1 23.7 L438.2 23.9 L439.4 24.0 L440.6 24.1 L441.7 24.3 L442.9 24.4 L444.0 24.5 L445.2 24.7 L446.4 24.8 L447.5 24.9 L448.7 25.1 L449.9 25.2 L451.0 25.3 L452.2 25.5 L453.4 25.6 L454.5 25.8 L455.7 25.9 L456.8 26.0 L458.0 26.2 L459.2 26.4 L460.3 26.5 L461.5 26.7 L462.7 26.9 L463.8 27.2 L465.0 27.4 L466.2 27.8 L467.3 28.2 L468.5 28.7 L469.6 29.2 L470.8 29.8 L472.0 30.4 L473.1 31.0 L474.3 31.8 L475.5 32.7 L476.6 33.7 L477.8 34.9 L478.1 35.2 L479.2 49.3 L480.4 53.5 L481.6 56.1 L482.7 58.8 L483.9 61.2 L485.1 63.2 L486.2 64.9 L487.4 66.4 L488.6 67.8 L489.7 69.0 L490.9 70.1 L492.0 71.0 L493.2 72.0 L494.4 73.2 L495.5 74.4 L495.8 74.7 L497.0 71.8 L498.2 71.3 L499.3 70.9 L500.5 70.7 L501.4 70.7 L502.5 69.4 L503.7 68.5 L504.8 67.8 L506.0 67.3 L507.2 66.9 L508.3 66.8 L509.5 66.8 L510.7 66.9 L511.8 67.0 L513.0 67.0 L514.2 67.1 L515.3 67.2 L516.5 67.3 L517.6 67.4 L518.8 67.4 L520.0 67.5 L521.1 67.6 L522.3 67.7 L523.5 67.8 L524.6 67.8 L525.8 67.9 L527.0 68.0 L528.1 68.1 L529.3 68.2 L530.4 68.3 L531.6 68.3 L532.8 68.4 L533.9 68.4 L535.1 68.5 L536.3 68.5 L537.4 68.5 L538.6 68.5 L539.8 68.5 L540.9 68.5 L542.1 68.5 L543.2 68.5 L544.4 68.5 L545.6 68.5 L546.7 68.5 L547.9 68.5 L549.1 68.5 L550.2 68.5 L551.4 68.5 L552.6 68.5 L553.7 68.5 L554.9 68.5 L556.0 68.5 L557.2 68.5 L558.4 68.5 L559.5 68.5 L560.7 68.5 L561.9 68.5 L563.0 68.5 L564.2 68.5 L565.4 68.5 L566.2 68.5 L566.2 100.2 L565.4 100.2 L564.2 100.3 L563.0 100.3 L561.9 100.3 L560.7 100.3 L559.5 100.4 L558.4 100.4 L557.2 100.4 L556.0 100.4 L554.9 100.4 L553.7 100.4 L552.6 100.5 L551.4 100.5 L550.2 100.5 L549.1 100.5 L547.9 100.5 L546.7 100.5 L545.6 100.5 L544.4 100.5 L543.2 100.5 L542.1 100.5 L540.9 100.5 L539.8 100.5 L538.6 100.5 L537.4 100.5 L536.3 100.5 L535.1 100.5 L533.9 100.4 L532.8 100.4 L531.6 100.3 L530.4 100.2 L529.3 100.2 L528.1 100.1 L527.0 100.0 L525.8 99.9 L524.6 99.8 L523.5 99.8 L522.3 99.7 L521.1 99.6 L520.0 99.5 L518.8 99.4 L517.6 99.4 L516.5 99.3 L515.3 99.3 L514.2 99.3 L513.0 99.3 L511.8 99.4 L510.7 99.5 L509.5 99.6 L508.3 99.7 L507.2 99.9 L506.0 100.5 L504.8 101.2 L503.7 101.8 L502.5 102.6 L501.4 103.5 L501.1 103.4 L499.9 102.9 L498.7 102.3 L497.6 101.7 L496.4 101.0 L495.2 100.3 L494.1 99.5 L492.9 98.5 L491.8 97.2 L490.6 95.7 L489.4 94.0 L488.3 92.1 L487.1 89.9 L485.9 87.4 L484.8 84.3 L483.6 79.7 L482.4 74.6 L481.3 69.5 L480.1 64.3 L479.0 59.0 L477.8 57.3 L476.6 56.2 L475.5 55.1 L474.3 54.1 L473.1 53.1 L472.0 52.2 L470.8 51.4 L469.6 50.7 L468.5 50.0 L467.3 49.4 L466.2 48.9 L465.0 48.4 L463.8 48.0 L462.7 47.6 L461.5 47.3 L460.3 47.0 L459.2 46.7 L458.0 46.4 L456.8 46.1 L455.7 45.8 L454.5 45.6 L453.4 45.4 L452.2 45.2 L451.0 45.0 L449.9 44.8 L448.7 44.6 L447.5 44.5 L446.4 44.4 L445.2 44.2 L444.0 44.1 L442.9 44.0 L441.7 43.9 L440.6 43.8 L439.4 43.7 L438.2 43.6 L437.1 43.4 L435.9 43.3 L434.7 43.1 L433.6 42.9 L432.4 42.6 L431.2 42.4 L430.1 42.1 L428.9 41.7 L427.8 41.4 L426.6 41.1 L425.4 40.7 L424.3 40.3 L423.1 39.9 L421.9 39.5 L420.8 39.0 Z" fill="#1b7570" fill-opacity="0.21"/>
<path d="M420.8 25.3 L421.9 25.9 L423.1 26.5 L424.3 27.0 L425.4 27.4 L426.6 27.8 L427.8 28.1 L428.9 28.4 L430.1 28.6 L431.2 28.8 L432.4 28.9 L433.6 29.1 L434.7 29.2 L435.9 29.4 L437.1 29.5 L438.2 29.7 L439.4 29.8 L440.6 30.0 L441.7 30.1 L442.9 30.3 L444.0 30.4 L445.2 30.5 L446.4 30.7 L447.5 30.9 L448.7 31.0 L449.9 31.2 L451.0 31.4 L452.2 31.6 L453.4 31.7 L454.5 31.9 L455.7 32.1 L456.8 32.3 L458.0 32.5 L459.2 32.8 L460.3 33.0 L461.5 33.3 L462.7 33.5 L463.8 33.8 L465.0 34.2 L466.2 34.6 L467.3 35.1 L468.5 35.6 L469.6 36.2 L470.8 36.8 L472.0 37.5 L473.1 38.2 L474.3 39.0 L475.5 39.8 L476.6 40.8 L477.8 42.0 L479.0 49.5 L480.1 55.3 L481.3 60.2 L482.4 64.2 L483.6 67.6 L484.8 70.5 L485.9 73.0 L487.1 75.3 L488.3 77.3 L489.4 79.1 L490.6 80.7 L491.8 82.0 L492.9 83.1 L494.1 83.9 L495.2 84.7 L496.4 85.4 L497.6 86.0 L498.7 86.6 L499.9 87.0 L501.1 87.3 L501.4 87.3 L502.5 86.2 L503.7 85.1 L504.8 84.2 L506.0 83.4 L507.2 82.7 L508.3 82.2 L509.5 81.8 L510.7 81.4 L511.8 81.0 L513.0 80.7 L514.2 80.6 L515.3 80.5 L516.5 80.5 L517.6 80.6 L518.8 80.7 L520.0 80.8 L521.1 80.9 L522.3 81.0 L523.5 81.1 L524.6 81.1 L525.8 81.2 L527.0 81.3 L528.1 81.4 L529.3 81.5 L530.4 81.6 L531.6 81.6 L532.8 81.7 L533.9 81.7 L535.1 81.8 L536.3 81.8 L537.4 81.8 L538.6 81.8 L539.8 81.8 L540.9 81.8 L542.1 81.8 L543.2 81.8 L544.4 81.8 L545.6 81.8 L546.7 81.8 L547.9 81.8 L549.1 81.8 L550.2 81.8 L551.4 81.8 L552.6 81.8 L553.7 81.8 L554.9 81.8 L556.0 81.8 L557.2 81.8 L558.4 81.8 L559.5 81.8 L560.7 81.8 L561.9 81.8 L563.0 81.8 L564.2 81.8 L565.4 81.8 L566.2 81.8 L566.2 90.7 L565.4 90.7 L564.2 90.8 L563.0 90.8 L561.9 90.8 L560.7 90.8 L559.5 90.9 L558.4 90.9 L557.2 90.9 L556.0 90.9 L554.9 90.9 L553.7 90.9 L552.6 91.0 L551.4 91.0 L550.2 91.0 L549.1 91.0 L547.9 91.0 L546.7 91.0 L545.6 91.0 L544.4 91.0 L543.2 91.0 L542.1 91.0 L540.9 91.0 L539.8 91.0 L538.6 91.0 L537.4 91.0 L536.3 91.0 L535.1 91.0 L533.9 90.9 L532.8 90.9 L531.6 90.8 L530.4 90.8 L529.3 90.7 L528.1 90.6 L527.0 90.5 L525.8 90.4 L524.6 90.3 L523.5 90.3 L522.3 90.2 L521.1 90.1 L520.0 90.0 L518.8 89.9 L517.6 89.8 L516.5 89.7 L515.3 89.7 L514.2 89.7 L513.0 89.8 L511.8 90.0 L510.7 90.2 L509.5 90.4 L508.3 90.6 L507.2 90.9 L506.0 91.4 L504.8 92.0 L503.7 92.7 L502.5 93.5 L501.4 94.3 L501.1 94.2 L499.9 93.9 L498.7 93.4 L497.6 92.7 L496.4 92.0 L495.2 91.1 L494.1 90.2 L492.9 89.2 L491.8 87.8 L490.6 86.3 L489.4 84.6 L488.3 82.6 L487.1 80.4 L485.9 78.0 L484.8 75.3 L483.6 72.5 L482.4 69.4 L481.3 65.3 L480.1 60.0 L479.0 54.0 L477.8 47.3 L476.6 45.9 L475.5 44.7 L474.3 43.7 L473.1 42.8 L472.0 42.0 L470.8 41.3 L469.6 40.6 L468.5 40.0 L467.3 39.4 L466.2 38.9 L465.0 38.4 L463.8 38.0 L462.7 37.6 L461.5 37.3 L460.3 37.0 L459.2 36.7 L458.0 36.4 L456.8 36.1 L455.7 35.9 L454.5 35.7 L453.4 35.4 L452.2 35.2 L451.0 35.0 L449.9 34.8 L448.7 34.6 L447.5 34.4 L446.4 34.2 L445.2 34.1 L444.0 33.9 L442.9 33.7 L441.7 33.6 L440.6 33.4 L439.4 33.3 L438.2 33.2 L437.1 33.0 L435.9 32.9 L434.7 32.7 L433.6 32.6 L432.4 32.5 L431.2 32.4 L430.1 32.3 L428.9 32.1 L427.8 31.9 L426.6 31.7 L425.4 31.4 L424.3 31.0 L423.1 30.5 L421.9 30.0 L420.8 29.5 Z" fill="#1b7570" fill-opacity="0.27"/>
<path d="M420.8 27.3 L421.9 27.9 L423.1 28.5 L424.3 28.9 L425.4 29.4 L426.6 29.8 L427.8 30.1 L428.9 30.4 L430.1 30.6 L431.2 30.7 L432.4 30.9 L433.6 31.0 L434.7 31.1 L435.9 31.3 L437.1 31.4 L438.2 31.5 L439.4 31.6 L440.6 31.8 L441.7 31.9 L442.9 32.0 L444.0 32.2 L445.2 32.4 L446.4 32.6 L447.5 32.8 L448.7 33.0 L449.9 33.2 L451.0 33.4 L452.2 33.6 L453.4 33.8 L454.5 34.0 L455.7 34.2 L456.8 34.4 L458.0 34.7 L459.2 34.9 L460.3 35.2 L461.5 35.4 L462.7 35.7 L463.8 36.0 L465.0 36.4 L466.2 36.8 L467.3 37.3 L468.5 37.8 L469.6 38.4 L470.8 39.0 L472.0 39.7 L473.1 40.4 L474.3 41.3 L475.5 42.2 L476.6 43.2 L477.8 44.3 L479.0 51.5 L480.1 57.6 L481.3 62.7 L482.4 66.6 L483.6 69.7 L484.8 72.5 L485.9 75.1 L487.1 77.4 L488.3 79.5 L489.4 81.4 L490.6 83.0 L491.8 84.3 L492.9 85.5 L494.1 86.5 L495.2 87.4 L496.4 88.2 L497.6 88.9 L498.7 89.5 L499.9 90.0 L501.1 90.4 L501.4 90.5 L502.5 89.8 L503.7 89.0 L504.8 88.2 L506.0 87.3 L507.2 86.5 L508.3 85.8 L509.5 85.2 L510.7 84.8 L511.8 84.8 L513.0 84.7 L514.2 84.7 L515.3 84.7 L516.5 84.7 L517.6 84.9 L518.8 85.0 L520.0 85.2 L521.1 85.4 L522.3 85.5 L523.5 85.6 L524.6 85.6 L525.8 85.7 L527.0 85.8 L528.1 85.9 L529.3 85.9 L530.4 86.0 L531.6 86.1 L532.8 86.1 L533.9 86.2 L535.1 86.2 L536.3 86.2 L537.4 86.2 L538.6 86.2 L539.8 86.2 L540.9 86.2 L542.1 86.2 L543.2 86.2 L544.4 86.2 L545.6 86.2 L546.7 86.2 L547.9 86.2 L549.1 86.2 L550.2 86.2 L551.4 86.2 L552.6 86.2 L553.7 86.2 L554.9 86.2 L556.0 86.1 L557.2 86.1 L558.4 86.1 L559.5 86.1 L560.7 86.1 L561.9 86.1 L563.0 86.1 L564.2 86.0 L565.4 86.0 L566.2 86.0" fill="none" stroke="#146b66" stroke-width="1.6" stroke-linejoin="round"/>
</g>
<rect x="413.50" y="15.70" width="160.00" height="92.40" fill="none" stroke="#b3b3b3" stroke-width="0.5"/>
<line x1="410.90" x2="413.50" y1="16.00" y2="16.00" stroke="#b3b3b3" stroke-width="0.4"/>
<text x="408.90" y="18.65" font-size="7.8" fill="#4d4d4d" text-anchor="end">0.6</text>
<line x1="410.90" x2="413.50" y1="33.50" y2="33.50" stroke="#b3b3b3" stroke-width="0.4"/>
<text x="408.90" y="36.15" font-size="7.8" fill="#4d4d4d" text-anchor="end">0.5</text>
<line x1="410.90" x2="413.50" y1="51.00" y2="51.00" stroke="#b3b3b3" stroke-width="0.4"/>
<text x="408.90" y="53.65" font-size="7.8" fill="#4d4d4d" text-anchor="end">0.4</text>
<line x1="410.90" x2="413.50" y1="68.50" y2="68.50" stroke="#b3b3b3" stroke-width="0.4"/>
<text x="408.90" y="71.15" font-size="7.8" fill="#4d4d4d" text-anchor="end">0.3</text>
<line x1="410.90" x2="413.50" y1="86.00" y2="86.00" stroke="#b3b3b3" stroke-width="0.4"/>
<text x="408.90" y="88.65" font-size="7.8" fill="#4d4d4d" text-anchor="end">0.2</text>
<line x1="410.90" x2="413.50" y1="103.50" y2="103.50" stroke="#b3b3b3" stroke-width="0.4"/>
<text x="408.90" y="106.15" font-size="7.8" fill="#4d4d4d" text-anchor="end">0.1</text>
<line x1="420.77" x2="420.77" y1="108.10" y2="110.70" stroke="#b3b3b3" stroke-width="0.4"/>
<text x="420.77" y="118.40" font-size="7.8" fill="#4d4d4d" text-anchor="middle">1800</text>
<line x1="449.86" x2="449.86" y1="108.10" y2="110.70" stroke="#b3b3b3" stroke-width="0.4"/>
<text x="449.86" y="118.40" font-size="7.8" fill="#4d4d4d" text-anchor="middle">1900</text>
<line x1="478.95" x2="478.95" y1="108.10" y2="110.70" stroke="#b3b3b3" stroke-width="0.4"/>
<text x="478.95" y="118.40" font-size="7.8" fill="#4d4d4d" text-anchor="middle">2000</text>
<line x1="508.04" x2="508.04" y1="108.10" y2="110.70" stroke="#b3b3b3" stroke-width="0.4"/>
<text x="508.04" y="118.40" font-size="7.8" fill="#4d4d4d" text-anchor="middle">2100</text>
<line x1="537.13" x2="537.13" y1="108.10" y2="110.70" stroke="#b3b3b3" stroke-width="0.4"/>
<text x="537.13" y="118.40" font-size="7.8" fill="#4d4d4d" text-anchor="middle">2200</text>
<line x1="566.23" x2="566.23" y1="108.10" y2="110.70" stroke="#b3b3b3" stroke-width="0.4"/>
<text x="566.23" y="118.40" font-size="7.8" fill="#4d4d4d" text-anchor="middle">2300</text>
<clipPath id="c01"><rect x="33.50" y="140.00" width="160.00" height="92.40"/></clipPath>
<rect x="33.15" y="125.40" width="160.70" height="14.95" fill="#b3b3b3"/>
<text x="113.50" y="135.00" font-size="7.9" fill="#fff" text-anchor="middle">Vegetation</text>
<g clip-path="url(#c01)">
<line x1="55.32" x2="55.32" y1="140.00" y2="232.40" stroke="#e6e6e6" stroke-width="0.4"/>
<line x1="84.41" x2="84.41" y1="140.00" y2="232.40" stroke="#e6e6e6" stroke-width="0.4"/>
<line x1="113.50" x2="113.50" y1="140.00" y2="232.40" stroke="#e6e6e6" stroke-width="0.4"/>
<line x1="142.59" x2="142.59" y1="140.00" y2="232.40" stroke="#e6e6e6" stroke-width="0.4"/>
<line x1="171.68" x2="171.68" y1="140.00" y2="232.40" stroke="#e6e6e6" stroke-width="0.4"/>
<line x1="33.50" x2="193.50" y1="157.20" y2="157.20" stroke="#e6e6e6" stroke-width="0.4"/>
<line x1="33.50" x2="193.50" y1="177.20" y2="177.20" stroke="#e6e6e6" stroke-width="0.4"/>
<line x1="33.50" x2="193.50" y1="197.20" y2="197.20" stroke="#e6e6e6" stroke-width="0.4"/>
<line x1="33.50" x2="193.50" y1="217.30" y2="217.30" stroke="#e6e6e6" stroke-width="0.4"/>
<line x1="40.77" x2="40.77" y1="140.00" y2="232.40" stroke="#e0e0e0" stroke-width="0.65"/>
<line x1="69.86" x2="69.86" y1="140.00" y2="232.40" stroke="#e0e0e0" stroke-width="0.65"/>
<line x1="98.95" x2="98.95" y1="140.00" y2="232.40" stroke="#e0e0e0" stroke-width="0.65"/>
<line x1="128.04" x2="128.04" y1="140.00" y2="232.40" stroke="#e0e0e0" stroke-width="0.65"/>
<line x1="157.13" x2="157.13" y1="140.00" y2="232.40" stroke="#e0e0e0" stroke-width="0.65"/>
<line x1="186.23" x2="186.23" y1="140.00" y2="232.40" stroke="#e0e0e0" stroke-width="0.65"/>
<line x1="33.50" x2="193.50" y1="147.20" y2="147.20" stroke="#e0e0e0" stroke-width="0.65"/>
<line x1="33.50" x2="193.50" y1="167.20" y2="167.20" stroke="#e0e0e0" stroke-width="0.65"/>
<line x1="33.50" x2="193.50" y1="187.20" y2="187.20" stroke="#e0e0e0" stroke-width="0.65"/>
<line x1="33.50" x2="193.50" y1="207.25" y2="207.25" stroke="#e0e0e0" stroke-width="0.65"/>
<line x1="33.50" x2="193.50" y1="227.30" y2="227.30" stroke="#e0e0e0" stroke-width="0.65"/>
<path d="M40.8 149.3 L41.9 148.0 L43.1 147.0 L44.3 146.5 L45.4 146.1 L46.6 145.8 L47.8 145.5 L48.9 145.4 L50.1 145.2 L51.2 145.1 L52.4 144.9 L53.6 144.8 L54.7 144.7 L55.9 144.7 L57.1 144.6 L58.2 144.5 L59.4 144.4 L60.6 144.3 L61.7 144.3 L62.9 144.3 L64.0 144.3 L65.2 144.4 L66.4 144.6 L67.5 144.7 L68.7 144.9 L69.9 145.0 L71.0 145.1 L72.2 145.2 L73.4 145.4 L74.5 145.5 L75.7 145.6 L76.8 145.8 L78.0 145.9 L79.2 146.1 L80.3 146.3 L81.5 146.5 L82.7 146.8 L83.8 147.1 L85.0 147.4 L86.2 147.7 L87.3 148.1 L88.5 148.5 L89.6 149.0 L90.8 149.6 L92.0 150.2 L93.1 150.9 L94.3 151.7 L95.5 152.6 L96.6 153.5 L97.8 154.4 L98.1 154.7 L99.2 170.0 L100.4 175.8 L101.6 179.5 L102.7 182.4 L103.9 184.7 L105.1 186.7 L106.2 188.4 L107.4 189.9 L108.6 191.3 L109.7 192.5 L110.9 193.6 L112.0 194.5 L113.2 195.5 L114.4 196.5 L115.5 197.5 L116.7 194.8 L117.9 194.1 L119.0 193.6 L120.2 193.4 L121.4 193.3 L122.5 192.1 L123.7 191.2 L124.8 190.6 L126.0 190.2 L127.2 189.9 L128.3 189.8 L129.5 189.8 L130.7 189.9 L131.8 190.0 L133.0 190.1 L134.2 190.2 L135.3 190.3 L136.5 190.4 L137.6 190.6 L138.8 190.7 L140.0 190.9 L141.1 191.1 L142.3 191.2 L143.5 191.3 L144.6 191.4 L145.8 191.5 L147.0 191.5 L148.1 191.6 L149.3 191.7 L150.4 191.8 L151.6 191.8 L152.8 191.9 L153.9 191.9 L155.1 192.0 L156.3 192.0 L157.4 192.0 L158.6 192.0 L159.8 192.0 L160.9 192.0 L162.1 192.0 L163.2 192.0 L164.4 192.0 L165.6 192.0 L166.7 192.0 L167.9 192.0 L169.1 192.0 L170.2 192.0 L171.4 192.0 L172.6 192.0 L173.7 192.0 L174.9 192.0 L176.0 192.0 L177.2 192.0 L178.4 192.0 L179.5 192.0 L180.7 192.0 L181.9 192.0 L183.0 192.0 L184.2 192.0 L185.4 192.0 L186.2 192.0 L186.2 224.8 L185.4 224.8 L184.2 224.8 L183.0 224.8 L181.9 224.8 L180.7 224.8 L179.5 224.8 L178.4 224.8 L177.2 224.8 L176.0 224.8 L174.9 224.8 L173.7 224.8 L172.6 224.8 L171.4 224.8 L170.2 224.8 L169.1 224.8 L167.9 224.8 L166.7 224.8 L165.6 224.8 L164.4 224.8 L163.2 224.8 L162.1 224.8 L160.9 224.8 L159.8 224.8 L158.6 224.8 L157.4 224.8 L156.3 224.8 L155.1 224.8 L153.9 224.7 L152.8 224.7 L151.6 224.6 L150.4 224.6 L149.3 224.5 L148.1 224.4 L147.0 224.3 L145.8 224.2 L144.6 224.2 L143.5 224.1 L142.3 224.0 L141.1 223.9 L140.0 223.7 L138.8 223.6 L137.6 223.4 L136.5 223.3 L135.3 223.3 L134.2 223.3 L133.0 223.3 L131.8 223.4 L130.7 223.5 L129.5 223.6 L128.3 223.7 L127.2 224.0 L126.0 224.7 L124.8 225.5 L123.7 226.2 L122.5 227.0 L121.4 227.8 L121.1 227.7 L119.9 227.3 L118.7 226.7 L117.6 226.0 L116.4 225.3 L115.2 224.4 L114.1 223.4 L112.9 222.2 L111.8 221.0 L110.6 219.5 L109.4 217.7 L108.3 215.7 L107.1 213.2 L105.9 210.3 L104.8 207.0 L103.6 203.5 L102.4 199.5 L101.3 193.7 L100.1 186.3 L99.0 180.5 L97.8 178.5 L96.6 177.3 L95.5 176.1 L94.3 175.0 L93.1 174.0 L92.0 173.2 L90.8 172.5 L89.6 171.9 L88.5 171.3 L87.3 170.8 L86.2 170.3 L85.0 169.9 L83.8 169.5 L82.7 169.2 L81.5 168.9 L80.3 168.6 L79.2 168.4 L78.0 168.2 L76.8 167.9 L75.7 167.7 L74.5 167.5 L73.4 167.3 L72.2 167.1 L71.0 167.0 L69.9 166.8 L68.7 166.6 L67.5 166.5 L66.4 166.3 L65.2 166.2 L64.0 166.1 L62.9 166.0 L61.7 166.0 L60.6 166.0 L59.4 166.0 L58.2 166.0 L57.1 166.0 L55.9 166.0 L54.7 166.0 L53.6 166.1 L52.4 166.2 L51.2 166.5 L50.1 166.7 L48.9 167.0 L47.8 167.3 L46.6 167.7 L45.4 168.2 L44.3 168.8 L43.1 169.6 L41.9 170.8 L40.8 172.2 Z" fill="#1b7570" fill-opacity="0.21"/>
<path d="M40.8 154.7 L41.9 153.8 L43.1 153.0 L44.3 152.4 L45.4 152.0 L46.6 151.6 L47.8 151.3 L48.9 151.2 L50.1 151.1 L51.2 151.0 L52.4 150.9 L53.6 150.8 L54.7 150.8 L55.9 150.8 L57.1 150.8 L58.2 150.8 L59.4 150.8 L60.6 150.8 L61.7 150.8 L62.9 150.8 L64.0 150.9 L65.2 151.0 L66.4 151.2 L67.5 151.3 L68.7 151.5 L69.9 151.7 L71.0 151.8 L72.2 152.0 L73.4 152.1 L74.5 152.3 L75.7 152.5 L76.8 152.7 L78.0 152.8 L79.2 153.0 L80.3 153.3 L81.5 153.5 L82.7 153.8 L83.8 154.0 L85.0 154.4 L86.2 154.7 L87.3 155.2 L88.5 155.7 L89.6 156.2 L90.8 156.8 L92.0 157.4 L93.1 158.1 L94.3 158.9 L95.5 159.7 L96.6 160.7 L97.8 161.8 L99.0 171.0 L100.1 177.7 L101.3 183.2 L102.4 187.5 L103.6 191.0 L104.8 194.0 L105.9 196.8 L107.1 199.2 L108.3 201.3 L109.4 203.0 L110.6 204.5 L111.8 205.8 L112.9 206.9 L114.1 207.7 L115.2 208.5 L116.4 209.2 L117.6 209.8 L118.7 210.4 L119.9 210.8 L121.1 211.1 L121.4 211.2 L122.5 209.9 L123.7 208.7 L124.8 207.7 L126.0 206.7 L127.2 205.9 L128.3 205.1 L129.5 204.4 L130.7 203.8 L131.8 203.4 L133.0 203.3 L134.2 203.4 L135.3 203.4 L136.5 203.6 L137.6 203.7 L138.8 203.8 L140.0 204.0 L141.1 204.1 L142.3 204.2 L143.5 204.3 L144.6 204.3 L145.8 204.4 L147.0 204.5 L148.1 204.5 L149.3 204.6 L150.4 204.6 L151.6 204.7 L152.8 204.7 L153.9 204.8 L155.1 204.8 L156.3 204.8 L157.4 204.8 L158.6 204.8 L159.8 204.8 L160.9 204.8 L162.1 204.8 L163.2 204.8 L164.4 204.8 L165.6 204.8 L166.7 204.8 L167.9 204.8 L169.1 204.8 L170.2 204.8 L171.4 204.8 L172.6 204.8 L173.7 204.8 L174.9 204.8 L176.0 204.8 L177.2 204.8 L178.4 204.8 L179.5 204.8 L180.7 204.8 L181.9 204.8 L183.0 204.8 L184.2 204.8 L185.4 204.8 L186.2 204.8 L186.2 214.5 L185.4 214.5 L184.2 214.5 L183.0 214.5 L181.9 214.5 L180.7 214.5 L179.5 214.5 L178.4 214.5 L177.2 214.5 L176.0 214.5 L174.9 214.5 L173.7 214.5 L172.6 214.5 L171.4 214.5 L170.2 214.5 L169.1 214.5 L167.9 214.5 L166.7 214.5 L165.6 214.5 L164.4 214.5 L163.2 214.5 L162.1 214.5 L160.9 214.5 L159.8 214.5 L158.6 214.5 L157.4 214.5 L156.3 214.5 L155.1 214.5 L153.9 214.4 L152.8 214.4 L151.6 214.3 L150.4 214.3 L149.3 214.2 L148.1 214.1 L147.0 214.0 L145.8 214.0 L144.6 213.9 L143.5 213.8 L142.3 213.7 L141.1 213.5 L140.0 213.3 L138.8 213.2 L137.6 213.0 L136.5 212.8 L135.3 212.8 L134.2 212.8 L133.0 213.0 L131.8 213.1 L130.7 213.4 L129.5 213.6 L128.3 213.9 L127.2 214.3 L126.0 214.8 L124.8 215.4 L123.7 216.1 L122.5 216.9 L121.4 217.8 L121.1 217.7 L119.9 217.2 L118.7 216.6 L117.6 215.9 L116.4 215.1 L115.2 214.2 L114.1 213.3 L112.9 212.3 L111.8 211.1 L110.6 209.8 L109.4 208.2 L108.3 206.3 L107.1 204.2 L105.9 201.6 L104.8 198.8 L103.6 195.8 L102.4 192.5 L101.3 188.2 L100.1 182.6 L99.0 176.0 L97.8 168.0 L96.6 166.6 L95.5 165.4 L94.3 164.3 L93.1 163.3 L92.0 162.4 L90.8 161.7 L89.6 161.0 L88.5 160.5 L87.3 159.9 L86.2 159.4 L85.0 159.0 L83.8 158.6 L82.7 158.2 L81.5 157.9 L80.3 157.5 L79.2 157.2 L78.0 157.0 L76.8 156.7 L75.7 156.6 L74.5 156.4 L73.4 156.2 L72.2 156.1 L71.0 156.0 L69.9 155.8 L68.7 155.6 L67.5 155.4 L66.4 155.1 L65.2 154.9 L64.0 154.8 L62.9 154.7 L61.7 154.7 L60.6 154.7 L59.4 154.7 L58.2 154.7 L57.1 154.7 L55.9 154.7 L54.7 154.7 L53.6 154.8 L52.4 154.9 L51.2 155.1 L50.1 155.4 L48.9 155.6 L47.8 155.9 L46.6 156.2 L45.4 156.7 L44.3 157.2 L43.1 157.9 L41.9 158.8 L40.8 160.0 Z" fill="#1b7570" fill-opacity="0.27"/>
<path d="M40.8 157.7 L41.9 156.5 L43.1 155.6 L44.3 154.9 L45.4 154.3 L46.6 153.9 L47.8 153.6 L48.9 153.3 L50.1 153.2 L51.2 153.0 L52.4 152.9 L53.6 152.8 L54.7 152.7 L55.9 152.7 L57.1 152.7 L58.2 152.7 L59.4 152.7 L60.6 152.7 L61.7 152.7 L62.9 152.7 L64.0 152.7 L65.2 152.8 L66.4 152.9 L67.5 153.1 L68.7 153.5 L69.9 153.8 L71.0 154.0 L72.2 154.1 L73.4 154.3 L74.5 154.4 L75.7 154.5 L76.8 154.7 L78.0 154.8 L79.2 155.1 L80.3 155.3 L81.5 155.5 L82.7 155.8 L83.8 156.1 L85.0 156.5 L86.2 156.9 L87.3 157.4 L88.5 157.9 L89.6 158.6 L90.8 159.2 L92.0 159.9 L93.1 160.7 L94.3 161.5 L95.5 162.5 L96.6 163.5 L97.8 164.7 L99.0 173.5 L100.1 180.7 L101.3 185.9 L102.4 189.9 L103.6 193.2 L104.8 196.2 L105.9 199.0 L107.1 201.4 L108.3 203.5 L109.4 205.2 L110.6 206.7 L111.8 207.9 L112.9 209.0 L114.1 210.0 L115.2 210.8 L116.4 211.5 L117.6 212.1 L118.7 212.7 L119.9 213.2 L121.1 213.6 L121.4 213.7 L122.5 212.8 L123.7 212.0 L124.8 211.1 L126.0 210.3 L127.2 209.5 L128.3 208.8 L129.5 208.2 L130.7 207.8 L131.8 207.8 L133.0 207.8 L134.2 207.8 L135.3 207.8 L136.5 207.9 L137.6 208.0 L138.8 208.2 L140.0 208.4 L141.1 208.5 L142.3 208.7 L143.5 208.8 L144.6 208.8 L145.8 208.9 L147.0 209.0 L148.1 209.0 L149.3 209.1 L150.4 209.1 L151.6 209.2 L152.8 209.2 L153.9 209.3 L155.1 209.3 L156.3 209.3 L157.4 209.3 L158.6 209.3 L159.8 209.3 L160.9 209.3 L162.1 209.3 L163.2 209.3 L164.4 209.3 L165.6 209.3 L166.7 209.3 L167.9 209.3 L169.1 209.3 L170.2 209.3 L171.4 209.3 L172.6 209.3 L173.7 209.3 L174.9 209.3 L176.0 209.3 L177.2 209.3 L178.4 209.3 L179.5 209.3 L180.7 209.3 L181.9 209.3 L183.0 209.3 L184.2 209.3 L185.4 209.3 L186.2 209.3" fill="none" stroke="#146b66" stroke-width="1.6" stroke-linejoin="round"/>
</g>
<rect x="33.50" y="140.00" width="160.00" height="92.40" fill="none" stroke="#b3b3b3" stroke-width="0.5"/>
<line x1="30.90" x2="33.50" y1="147.20" y2="147.20" stroke="#b3b3b3" stroke-width="0.4"/>
<text x="28.90" y="149.85" font-size="7.8" fill="#4d4d4d" text-anchor="end">0.25</text>
<line x1="30.90" x2="33.50" y1="167.20" y2="167.20" stroke="#b3b3b3" stroke-width="0.4"/>
<text x="28.90" y="169.85" font-size="7.8" fill="#4d4d4d" text-anchor="end">0.20</text>
<line x1="30.90" x2="33.50" y1="187.20" y2="187.20" stroke="#b3b3b3" stroke-width="0.4"/>
<text x="28.90" y="189.85" font-size="7.8" fill="#4d4d4d" text-anchor="end">0.15</text>
<line x1="30.90" x2="33.50" y1="207.25" y2="207.25" stroke="#b3b3b3" stroke-width="0.4"/>
<text x="28.90" y="209.90" font-size="7.8" fill="#4d4d4d" text-anchor="end">0.10</text>
<line x1="30.90" x2="33.50" y1="227.30" y2="227.30" stroke="#b3b3b3" stroke-width="0.4"/>
<text x="28.90" y="229.95" font-size="7.8" fill="#4d4d4d" text-anchor="end">0.05</text>
<line x1="40.77" x2="40.77" y1="232.40" y2="235.00" stroke="#b3b3b3" stroke-width="0.4"/>
<text x="40.77" y="242.70" font-size="7.8" fill="#4d4d4d" text-anchor="middle">1800</text>
<line x1="69.86" x2="69.86" y1="232.40" y2="235.00" stroke="#b3b3b3" stroke-width="0.4"/>
<text x="69.86" y="242.70" font-size="7.8" fill="#4d4d4d" text-anchor="middle">1900</text>
<line x1="98.95" x2="98.95" y1="232.40" y2="235.00" stroke="#b3b3b3" stroke-width="0.4"/>
<text x="98.95" y="242.70" font-size="7.8" fill="#4d4d4d" text-anchor="middle">2000</text>
<line x1="128.04" x2="128.04" y1="232.40" y2="235.00" stroke="#b3b3b3" stroke-width="0.4"/>
<text x="128.04" y="242.70" font-size="7.8" fill="#4d4d4d" text-anchor="middle">2100</text>
<line x1="157.13" x2="157.13" y1="232.40" y2="235.00" stroke="#b3b3b3" stroke-width="0.4"/>
<text x="157.13" y="242.70" font-size="7.8" fill="#4d4d4d" text-anchor="middle">2200</text>
<line x1="186.23" x2="186.23" y1="232.40" y2="235.00" stroke="#b3b3b3" stroke-width="0.4"/>
<text x="186.23" y="242.70" font-size="7.8" fill="#4d4d4d" text-anchor="middle">2300</text>
<clipPath id="c11"><rect x="223.50" y="140.00" width="160.00" height="92.40"/></clipPath>
<rect x="223.15" y="125.40" width="160.70" height="14.95" fill="#b3b3b3"/>
<text x="303.50" y="135.00" font-size="7.9" fill="#fff" text-anchor="middle">Deep ocean</text>
<g clip-path="url(#c11)">
<line x1="245.32" x2="245.32" y1="140.00" y2="232.40" stroke="#e6e6e6" stroke-width="0.4"/>
<line x1="274.41" x2="274.41" y1="140.00" y2="232.40" stroke="#e6e6e6" stroke-width="0.4"/>
<line x1="303.50" x2="303.50" y1="140.00" y2="232.40" stroke="#e6e6e6" stroke-width="0.4"/>
<line x1="332.59" x2="332.59" y1="140.00" y2="232.40" stroke="#e6e6e6" stroke-width="0.4"/>
<line x1="361.68" x2="361.68" y1="140.00" y2="232.40" stroke="#e6e6e6" stroke-width="0.4"/>
<line x1="223.50" x2="383.50" y1="157.70" y2="157.70" stroke="#e6e6e6" stroke-width="0.4"/>
<line x1="223.50" x2="383.50" y1="183.10" y2="183.10" stroke="#e6e6e6" stroke-width="0.4"/>
<line x1="223.50" x2="383.50" y1="208.50" y2="208.50" stroke="#e6e6e6" stroke-width="0.4"/>
<line x1="230.77" x2="230.77" y1="140.00" y2="232.40" stroke="#e0e0e0" stroke-width="0.65"/>
<line x1="259.86" x2="259.86" y1="140.00" y2="232.40" stroke="#e0e0e0" stroke-width="0.65"/>
<line x1="288.95" x2="288.95" y1="140.00" y2="232.40" stroke="#e0e0e0" stroke-width="0.65"/>
<line x1="318.04" x2="318.04" y1="140.00" y2="232.40" stroke="#e0e0e0" stroke-width="0.65"/>
<line x1="347.13" x2="347.13" y1="140.00" y2="232.40" stroke="#e0e0e0" stroke-width="0.65"/>
<line x1="376.23" x2="376.23" y1="140.00" y2="232.40" stroke="#e0e0e0" stroke-width="0.65"/>
<line x1="223.50" x2="383.50" y1="145.00" y2="145.00" stroke="#e0e0e0" stroke-width="0.65"/>
<line x1="223.50" x2="383.50" y1="170.40" y2="170.40" stroke="#e0e0e0" stroke-width="0.65"/>
<line x1="223.50" x2="383.50" y1="195.80" y2="195.80" stroke="#e0e0e0" stroke-width="0.65"/>
<line x1="223.50" x2="383.50" y1="221.20" y2="221.20" stroke="#e0e0e0" stroke-width="0.65"/>
<path d="M230.8 217.5 L231.9 214.0 L233.1 210.2 L234.3 206.3 L235.4 202.0 L236.6 198.0 L237.8 194.1 L238.9 191.1 L240.1 188.6 L241.2 186.1 L242.4 183.4 L243.6 180.8 L244.7 178.4 L245.9 176.1 L247.1 173.9 L248.2 171.9 L249.4 169.9 L250.6 168.0 L251.7 166.1 L252.9 164.2 L254.0 162.3 L255.2 160.4 L256.4 158.5 L257.5 156.8 L258.7 155.2 L259.9 153.8 L261.0 152.6 L262.2 151.5 L263.4 150.5 L264.5 149.6 L265.7 148.7 L266.8 147.9 L268.0 147.1 L269.2 146.2 L270.3 145.3 L271.5 144.6 L272.7 144.3 L273.8 144.5 L275.0 145.1 L276.2 146.9 L277.3 148.8 L278.5 150.6 L279.6 152.4 L280.8 154.2 L282.0 155.9 L283.1 157.3 L284.3 158.7 L285.5 160.3 L286.6 162.7 L287.8 166.3 L288.7 183.3 L289.8 187.0 L291.0 191.1 L292.2 195.8 L293.3 200.0 L294.5 203.1 L295.6 205.7 L296.8 208.1 L298.0 210.3 L299.1 212.3 L300.3 213.9 L301.5 215.0 L302.6 215.9 L303.8 216.7 L305.0 217.5 L305.8 218.0 L307.0 216.8 L308.2 216.1 L309.3 215.5 L310.5 215.1 L311.4 215.0 L312.5 213.9 L313.7 213.1 L314.8 212.6 L316.0 212.4 L317.2 212.2 L318.3 212.2 L319.5 212.2 L320.7 212.3 L321.8 212.3 L323.0 212.4 L324.2 212.4 L325.3 212.5 L326.5 212.6 L327.6 212.7 L328.8 212.9 L330.0 213.0 L331.1 213.2 L332.3 213.3 L333.5 213.4 L334.6 213.5 L335.8 213.6 L337.0 213.7 L338.1 213.8 L339.3 213.9 L340.4 213.9 L341.6 214.0 L342.8 214.1 L343.9 214.1 L345.1 214.2 L346.3 214.2 L347.4 214.2 L348.6 214.2 L349.8 214.2 L350.9 214.2 L352.1 214.2 L353.2 214.2 L354.4 214.2 L355.6 214.2 L356.7 214.2 L357.9 214.2 L359.1 214.2 L360.2 214.2 L361.4 214.2 L362.6 214.2 L363.7 214.2 L364.9 214.2 L366.0 214.2 L367.2 214.2 L368.4 214.2 L369.5 214.2 L370.7 214.2 L371.9 214.2 L373.0 214.2 L374.2 214.2 L375.4 214.2 L376.2 214.2 L376.2 224.7 L375.4 224.7 L374.2 224.7 L373.0 224.7 L371.9 224.7 L370.7 224.7 L369.5 224.7 L368.4 224.7 L367.2 224.7 L366.0 224.7 L364.9 224.7 L363.7 224.7 L362.6 224.7 L361.4 224.7 L360.2 224.7 L359.1 224.7 L357.9 224.7 L356.7 224.7 L355.6 224.7 L354.4 224.7 L353.2 224.7 L352.1 224.7 L350.9 224.7 L349.8 224.7 L348.6 224.7 L347.4 224.7 L346.3 224.7 L345.1 224.7 L343.9 224.6 L342.8 224.6 L341.6 224.5 L340.4 224.4 L339.3 224.3 L338.1 224.2 L337.0 224.1 L335.8 224.0 L334.6 223.9 L333.5 223.9 L332.3 223.8 L331.1 223.7 L330.0 223.6 L328.8 223.5 L327.6 223.4 L326.5 223.3 L325.3 223.3 L324.2 223.4 L323.0 223.5 L321.8 223.8 L320.7 224.1 L319.5 224.4 L318.3 224.6 L317.2 224.9 L316.0 225.1 L314.8 225.4 L313.7 225.7 L312.5 226.1 L311.4 226.6 L311.1 226.5 L309.9 226.1 L308.7 225.7 L307.6 225.2 L306.4 224.7 L305.2 224.2 L304.1 223.6 L302.9 223.0 L301.8 222.2 L300.6 221.3 L299.4 220.4 L298.3 219.3 L297.1 218.1 L295.9 216.6 L294.8 215.0 L293.6 213.4 L292.4 211.7 L291.3 209.8 L290.1 207.6 L289.0 205.8 L287.8 204.5 L286.6 203.5 L285.5 202.6 L284.3 201.8 L283.1 201.1 L282.0 200.5 L280.8 199.8 L279.6 199.2 L278.5 198.6 L277.3 198.0 L276.2 197.6 L275.0 197.3 L273.8 197.0 L272.7 196.9 L271.5 197.2 L270.3 197.8 L269.2 198.5 L268.0 199.3 L266.8 199.8 L265.7 200.3 L264.5 200.7 L263.4 201.1 L262.2 201.5 L261.0 202.0 L259.9 202.5 L258.7 203.1 L257.5 203.7 L256.4 204.4 L255.2 205.1 L254.0 205.8 L252.9 206.5 L251.7 207.3 L250.6 208.0 L249.4 208.8 L248.2 209.6 L247.1 210.4 L245.9 211.3 L244.7 212.1 L243.6 213.0 L242.4 214.0 L241.2 215.0 L240.1 216.0 L238.9 217.1 L237.8 218.3 L236.6 219.7 L235.4 221.3 L234.3 222.9 L233.1 224.5 L231.9 226.0 L230.8 227.5 Z" fill="#1b7570" fill-opacity="0.21"/>
<path d="M230.8 219.7 L231.9 216.6 L233.1 213.8 L234.3 211.3 L235.4 208.9 L236.6 206.7 L237.8 204.7 L238.9 202.8 L240.1 201.0 L241.2 199.2 L242.4 197.5 L243.6 195.9 L244.7 194.3 L245.9 192.7 L247.1 191.1 L248.2 189.5 L249.4 187.9 L250.6 186.4 L251.7 185.0 L252.9 183.7 L254.0 182.5 L255.2 181.3 L256.4 180.2 L257.5 179.1 L258.7 178.1 L259.9 177.2 L261.0 176.3 L262.2 175.4 L263.4 174.6 L264.5 173.8 L265.7 173.1 L266.8 172.4 L268.0 171.7 L269.2 170.9 L270.3 170.2 L271.5 169.6 L272.7 169.3 L273.8 169.5 L275.0 170.0 L276.2 171.0 L277.3 172.2 L278.5 173.5 L279.6 174.8 L280.8 176.2 L282.0 177.5 L283.1 178.6 L284.3 179.6 L285.5 180.7 L286.6 182.0 L287.8 183.8 L289.0 191.0 L290.1 195.9 L291.3 199.8 L292.4 203.0 L293.6 205.6 L294.8 207.8 L295.9 209.8 L297.1 211.6 L298.3 213.3 L299.4 214.9 L300.6 216.3 L301.8 217.5 L302.9 218.4 L304.1 219.1 L305.2 219.8 L306.4 220.4 L307.6 221.0 L308.7 221.4 L309.9 221.8 L311.1 222.0 L311.4 222.0 L312.5 221.4 L313.7 220.8 L314.8 220.2 L316.0 219.7 L317.2 219.3 L318.3 218.9 L319.5 218.6 L320.7 218.2 L321.8 217.9 L323.0 217.7 L324.2 217.7 L325.3 217.8 L326.5 217.9 L327.6 218.0 L328.8 218.1 L330.0 218.3 L331.1 218.4 L332.3 218.5 L333.5 218.5 L334.6 218.6 L335.8 218.6 L337.0 218.6 L338.1 218.7 L339.3 218.7 L340.4 218.7 L341.6 218.7 L342.8 218.8 L343.9 218.8 L345.1 218.8 L346.3 218.8 L347.4 218.8 L348.6 218.8 L349.8 218.8 L350.9 218.8 L352.1 218.8 L353.2 218.8 L354.4 218.8 L355.6 218.8 L356.7 218.8 L357.9 218.8 L359.1 218.8 L360.2 218.8 L361.4 218.8 L362.6 218.8 L363.7 218.8 L364.9 218.8 L366.0 218.8 L367.2 218.8 L368.4 218.8 L369.5 218.8 L370.7 218.8 L371.9 218.8 L373.0 218.8 L374.2 218.8 L375.4 218.8 L376.2 218.8 L376.2 221.3 L375.4 221.3 L374.2 221.3 L373.0 221.3 L371.9 221.3 L370.7 221.3 L369.5 221.3 L368.4 221.3 L367.2 221.3 L366.0 221.3 L364.9 221.3 L363.7 221.3 L362.6 221.3 L361.4 221.3 L360.2 221.3 L359.1 221.3 L357.9 221.3 L356.7 221.3 L355.6 221.3 L354.4 221.3 L353.2 221.3 L352.1 221.3 L350.9 221.3 L349.8 221.3 L348.6 221.3 L347.4 221.3 L346.3 221.3 L345.1 221.3 L343.9 221.3 L342.8 221.3 L341.6 221.3 L340.4 221.2 L339.3 221.2 L338.1 221.2 L337.0 221.1 L335.8 221.1 L334.6 221.1 L333.5 221.0 L332.3 221.0 L331.1 220.9 L330.0 220.7 L328.8 220.5 L327.6 220.4 L326.5 220.2 L325.3 220.2 L324.2 220.2 L323.0 220.3 L321.8 220.5 L320.7 220.7 L319.5 221.0 L318.3 221.2 L317.2 221.5 L316.0 222.0 L314.8 222.6 L313.7 223.2 L312.5 223.9 L311.4 224.7 L311.1 224.7 L309.9 224.4 L308.7 224.0 L307.6 223.5 L306.4 222.9 L305.2 222.2 L304.1 221.6 L302.9 220.8 L301.8 219.8 L300.6 218.7 L299.4 217.5 L298.3 216.0 L297.1 214.5 L295.9 212.8 L294.8 211.0 L293.6 209.1 L292.4 207.0 L291.3 204.4 L290.1 201.3 L289.0 198.8 L287.8 197.5 L286.6 195.7 L285.5 194.4 L284.3 193.4 L283.1 192.6 L282.0 191.7 L280.8 190.8 L279.6 189.9 L278.5 188.9 L277.3 188.0 L276.2 187.1 L275.0 186.2 L273.8 185.4 L272.7 185.0 L271.5 185.2 L270.3 185.7 L269.2 186.3 L268.0 186.9 L266.8 187.4 L265.7 188.0 L264.5 188.5 L263.4 189.1 L262.2 189.7 L261.0 190.3 L259.9 191.0 L258.7 191.8 L257.5 192.6 L256.4 193.5 L255.2 194.4 L254.0 195.3 L252.9 196.3 L251.7 197.2 L250.6 198.1 L249.4 199.0 L248.2 200.0 L247.1 201.0 L245.9 202.0 L244.7 203.0 L243.6 204.1 L242.4 205.2 L241.2 206.4 L240.1 207.6 L238.9 208.9 L237.8 210.4 L236.6 211.9 L235.4 213.7 L234.3 215.5 L233.1 217.5 L231.9 219.5 L230.8 221.7 Z" fill="#1b7570" fill-opacity="0.27"/>
<path d="M230.8 220.8 L231.9 218.7 L233.1 216.7 L234.3 215.0 L235.4 213.4 L236.6 211.2 L237.8 208.1 L238.9 206.0 L240.1 204.4 L241.2 202.9 L242.4 201.5 L243.6 200.1 L244.7 198.8 L245.9 197.6 L247.1 196.3 L248.2 195.0 L249.4 193.8 L250.6 192.6 L251.7 191.4 L252.9 190.3 L254.0 189.3 L255.2 188.2 L256.4 187.2 L257.5 186.2 L258.7 185.3 L259.9 184.5 L261.0 183.8 L262.2 183.1 L263.4 182.4 L264.5 181.8 L265.7 181.2 L266.8 180.6 L268.0 180.0 L269.2 179.3 L270.3 178.6 L271.5 178.0 L272.7 177.7 L273.8 177.8 L275.0 178.3 L276.2 179.6 L277.3 181.0 L278.5 182.2 L279.6 183.5 L280.8 184.7 L282.0 185.7 L283.1 186.6 L284.3 187.5 L285.5 188.3 L286.6 189.3 L287.8 190.5 L289.0 195.0 L290.1 198.4 L291.3 201.8 L292.4 204.6 L293.6 207.0 L294.8 209.2 L295.9 211.2 L297.1 213.0 L298.3 214.6 L299.4 216.2 L300.6 217.5 L301.8 218.6 L302.9 219.6 L304.1 220.4 L305.2 221.1 L306.4 221.7 L307.6 222.2 L308.7 222.7 L309.9 223.0 L311.1 223.3 L311.4 223.4 L312.5 223.0 L313.7 222.5 L314.8 221.9 L316.0 221.1 L317.2 220.4 L318.3 219.9 L319.5 219.4 L320.7 219.1 L321.8 218.8 L323.0 218.8 L324.2 218.8 L325.3 218.8 L326.5 218.9 L327.6 219.0 L328.8 219.2 L330.0 219.4 L331.1 219.6 L332.3 219.7 L333.5 219.7 L334.6 219.8 L335.8 219.8 L337.0 219.8 L338.1 219.9 L339.3 219.9 L340.4 219.9 L341.6 220.0 L342.8 220.0 L343.9 220.0 L345.1 220.0 L346.3 220.0 L347.4 220.0 L348.6 220.0 L349.8 220.0 L350.9 220.0 L352.1 220.0 L353.2 220.0 L354.4 220.0 L355.6 220.0 L356.7 220.0 L357.9 220.0 L359.1 220.0 L360.2 220.0 L361.4 220.0 L362.6 220.0 L363.7 220.0 L364.9 220.0 L366.0 220.0 L367.2 220.0 L368.4 220.0 L369.5 220.0 L370.7 220.0 L371.9 220.0 L373.0 220.0 L374.2 220.0 L375.4 220.0 L376.2 220.0" fill="none" stroke="#146b66" stroke-width="1.6" stroke-linejoin="round"/>
</g>
<rect x="223.50" y="140.00" width="160.00" height="92.40" fill="none" stroke="#b3b3b3" stroke-width="0.5"/>
<line x1="220.90" x2="223.50" y1="145.00" y2="145.00" stroke="#b3b3b3" stroke-width="0.4"/>
<text x="218.90" y="147.65" font-size="7.8" fill="#4d4d4d" text-anchor="end">0.04</text>
<line x1="220.90" x2="223.50" y1="170.40" y2="170.40" stroke="#b3b3b3" stroke-width="0.4"/>
<text x="218.90" y="173.05" font-size="7.8" fill="#4d4d4d" text-anchor="end">0.03</text>
<line x1="220.90" x2="223.50" y1="195.80" y2="195.80" stroke="#b3b3b3" stroke-width="0.4"/>
<text x="218.90" y="198.45" font-size="7.8" fill="#4d4d4d" text-anchor="end">0.02</text>
<line x1="220.90" x2="223.50" y1="221.20" y2="221.20" stroke="#b3b3b3" stroke-width="0.4"/>
<text x="218.90" y="223.85" font-size="7.8" fill="#4d4d4d" text-anchor="end">0.01</text>
<line x1="230.77" x2="230.77" y1="232.40" y2="235.00" stroke="#b3b3b3" stroke-width="0.4"/>
<text x="230.77" y="242.70" font-size="7.8" fill="#4d4d4d" text-anchor="middle">1800</text>
<line x1="259.86" x2="259.86" y1="232.40" y2="235.00" stroke="#b3b3b3" stroke-width="0.4"/>
<text x="259.86" y="242.70" font-size="7.8" fill="#4d4d4d" text-anchor="middle">1900</text>
<line x1="288.95" x2="288.95" y1="232.40" y2="235.00" stroke="#b3b3b3" stroke-width="0.4"/>
<text x="288.95" y="242.70" font-size="7.8" fill="#4d4d4d" text-anchor="middle">2000</text>
<line x1="318.04" x2="318.04" y1="232.40" y2="235.00" stroke="#b3b3b3" stroke-width="0.4"/>
<text x="318.04" y="242.70" font-size="7.8" fill="#4d4d4d" text-anchor="middle">2100</text>
<line x1="347.13" x2="347.13" y1="232.40" y2="235.00" stroke="#b3b3b3" stroke-width="0.4"/>
<text x="347.13" y="242.70" font-size="7.8" fill="#4d4d4d" text-anchor="middle">2200</text>
<line x1="376.23" x2="376.23" y1="232.40" y2="235.00" stroke="#b3b3b3" stroke-width="0.4"/>
<text x="376.23" y="242.70" font-size="7.8" fill="#4d4d4d" text-anchor="middle">2300</text>
<clipPath id="c21"><rect x="413.50" y="140.00" width="160.00" height="92.40"/></clipPath>
<rect x="413.15" y="125.40" width="160.70" height="14.95" fill="#b3b3b3"/>
<text x="493.50" y="135.00" font-size="7.9" fill="#fff" text-anchor="middle">Intermed. ocean</text>
<g clip-path="url(#c21)">
<line x1="435.32" x2="435.32" y1="140.00" y2="232.40" stroke="#e6e6e6" stroke-width="0.4"/>
<line x1="464.41" x2="464.41" y1="140.00" y2="232.40" stroke="#e6e6e6" stroke-width="0.4"/>
<line x1="493.50" x2="493.50" y1="140.00" y2="232.40" stroke="#e6e6e6" stroke-width="0.4"/>
<line x1="522.59" x2="522.59" y1="140.00" y2="232.40" stroke="#e6e6e6" stroke-width="0.4"/>
<line x1="551.68" x2="551.68" y1="140.00" y2="232.40" stroke="#e6e6e6" stroke-width="0.4"/>
<line x1="413.50" x2="573.50" y1="143.40" y2="143.40" stroke="#e6e6e6" stroke-width="0.4"/>
<line x1="413.50" x2="573.50" y1="167.00" y2="167.00" stroke="#e6e6e6" stroke-width="0.4"/>
<line x1="413.50" x2="573.50" y1="190.60" y2="190.60" stroke="#e6e6e6" stroke-width="0.4"/>
<line x1="413.50" x2="573.50" y1="214.30" y2="214.30" stroke="#e6e6e6" stroke-width="0.4"/>
<line x1="420.77" x2="420.77" y1="140.00" y2="232.40" stroke="#e0e0e0" stroke-width="0.65"/>
<line x1="449.86" x2="449.86" y1="140.00" y2="232.40" stroke="#e0e0e0" stroke-width="0.65"/>
<line x1="478.95" x2="478.95" y1="140.00" y2="232.40" stroke="#e0e0e0" stroke-width="0.65"/>
<line x1="508.04" x2="508.04" y1="140.00" y2="232.40" stroke="#e0e0e0" stroke-width="0.65"/>
<line x1="537.13" x2="537.13" y1="140.00" y2="232.40" stroke="#e0e0e0" stroke-width="0.65"/>
<line x1="566.23" x2="566.23" y1="140.00" y2="232.40" stroke="#e0e0e0" stroke-width="0.65"/>
<line x1="413.50" x2="573.50" y1="155.20" y2="155.20" stroke="#e0e0e0" stroke-width="0.65"/>
<line x1="413.50" x2="573.50" y1="178.80" y2="178.80" stroke="#e0e0e0" stroke-width="0.65"/>
<line x1="413.50" x2="573.50" y1="202.50" y2="202.50" stroke="#e0e0e0" stroke-width="0.65"/>
<line x1="413.50" x2="573.50" y1="226.10" y2="226.10" stroke="#e0e0e0" stroke-width="0.65"/>
<path d="M420.8 168.0 L421.9 167.8 L423.1 167.4 L424.3 167.0 L425.4 166.4 L426.6 165.8 L427.8 164.9 L428.9 163.7 L430.1 162.5 L431.2 161.6 L432.4 160.8 L433.6 160.0 L434.7 159.2 L435.9 158.4 L437.1 157.4 L438.2 156.5 L439.4 155.5 L440.6 154.6 L441.7 153.6 L442.9 152.8 L444.0 152.0 L445.2 151.1 L446.4 150.3 L447.5 149.6 L448.7 148.9 L449.9 148.3 L451.0 147.8 L452.2 147.3 L453.4 146.8 L454.5 146.4 L455.7 146.0 L456.8 145.6 L458.0 145.2 L459.2 144.7 L460.3 144.3 L461.5 144.0 L462.7 143.8 L463.8 144.0 L465.0 144.6 L466.2 145.8 L467.3 147.2 L468.5 148.6 L469.6 150.2 L470.8 151.8 L472.0 153.4 L473.1 154.8 L474.3 156.3 L475.5 157.9 L476.6 159.8 L477.8 162.2 L478.7 178.0 L479.8 185.3 L481.0 190.7 L482.2 194.8 L483.3 198.6 L484.5 202.1 L485.6 205.0 L486.8 207.4 L488.0 209.6 L489.1 211.5 L490.3 213.0 L491.5 214.0 L492.6 214.8 L493.8 215.8 L495.0 217.3 L495.8 218.7 L497.0 217.6 L498.2 216.9 L499.3 216.3 L500.5 215.9 L501.4 215.8 L502.5 214.8 L503.7 213.9 L504.8 213.4 L506.0 213.1 L507.2 212.9 L508.3 212.8 L509.5 212.8 L510.7 212.9 L511.8 213.0 L513.0 213.1 L514.2 213.2 L515.3 213.3 L516.5 213.4 L517.6 213.6 L518.8 213.7 L520.0 213.9 L521.1 214.1 L522.3 214.2 L523.5 214.3 L524.6 214.4 L525.8 214.5 L527.0 214.5 L528.1 214.6 L529.3 214.7 L530.4 214.8 L531.6 214.8 L532.8 214.9 L533.9 214.9 L535.1 215.0 L536.3 215.0 L537.4 215.0 L538.6 215.0 L539.8 215.0 L540.9 215.0 L542.1 215.0 L543.2 215.0 L544.4 215.0 L545.6 215.0 L546.7 215.0 L547.9 215.0 L549.1 215.0 L550.2 215.0 L551.4 215.0 L552.6 215.0 L553.7 215.0 L554.9 215.0 L556.0 215.0 L557.2 215.0 L558.4 215.0 L559.5 215.0 L560.7 215.0 L561.9 215.0 L563.0 215.0 L564.2 215.0 L565.4 215.0 L566.2 215.0 L566.2 226.2 L565.4 226.2 L564.2 226.2 L563.0 226.2 L561.9 226.2 L560.7 226.2 L559.5 226.2 L558.4 226.2 L557.2 226.2 L556.0 226.2 L554.9 226.2 L553.7 226.2 L552.6 226.2 L551.4 226.2 L550.2 226.2 L549.1 226.2 L547.9 226.2 L546.7 226.2 L545.6 226.2 L544.4 226.2 L543.2 226.2 L542.1 226.2 L540.9 226.2 L539.8 226.2 L538.6 226.2 L537.4 226.2 L536.3 226.2 L535.1 226.2 L533.9 226.1 L532.8 226.1 L531.6 226.0 L530.4 225.9 L529.3 225.8 L528.1 225.7 L527.0 225.6 L525.8 225.6 L524.6 225.5 L523.5 225.4 L522.3 225.3 L521.1 225.2 L520.0 225.0 L518.8 224.9 L517.6 224.8 L516.5 224.7 L515.3 224.7 L514.2 224.7 L513.0 224.8 L511.8 224.8 L510.7 224.9 L509.5 225.0 L508.3 225.2 L507.2 225.4 L506.0 225.7 L504.8 226.1 L503.7 226.5 L502.5 226.9 L501.4 227.3 L501.1 227.2 L499.9 226.7 L498.7 226.2 L497.6 225.8 L496.4 225.3 L495.2 224.9 L494.1 224.4 L492.9 223.9 L491.8 223.3 L490.6 222.5 L489.4 221.6 L488.3 220.6 L487.1 219.4 L485.9 218.1 L484.8 216.7 L483.6 215.2 L482.4 213.4 L481.3 211.4 L480.1 208.9 L479.0 206.7 L477.8 205.1 L476.6 203.8 L475.5 202.9 L474.3 202.1 L473.1 201.5 L472.0 201.0 L470.8 200.3 L469.6 199.6 L468.5 198.9 L467.3 198.3 L466.2 198.0 L465.0 197.8 L463.8 197.6 L462.7 197.6 L461.5 197.8 L460.3 198.1 L459.2 198.5 L458.0 198.9 L456.8 199.2 L455.7 199.4 L454.5 199.7 L453.4 200.0 L452.2 200.2 L451.0 200.5 L449.9 200.8 L448.7 201.1 L447.5 201.5 L446.4 201.9 L445.2 202.3 L444.0 202.7 L442.9 203.2 L441.7 203.7 L440.6 204.2 L439.4 204.8 L438.2 205.4 L437.1 206.0 L435.9 206.5 L434.7 206.9 L433.6 207.2 L432.4 207.5 L431.2 207.8 L430.1 208.1 L428.9 208.4 L427.8 209.0 L426.6 210.2 L425.4 211.1 L424.3 211.2 L423.1 211.1 L421.9 210.7 L420.8 210.0 Z" fill="#1b7570" fill-opacity="0.21"/>
<path d="M420.8 187.2 L421.9 187.1 L423.1 186.8 L424.3 186.5 L425.4 186.0 L426.6 185.4 L427.8 184.8 L428.9 184.3 L430.1 183.9 L431.2 183.4 L432.4 182.9 L433.6 182.5 L434.7 182.0 L435.9 181.4 L437.1 180.9 L438.2 180.3 L439.4 179.7 L440.6 179.1 L441.7 178.4 L442.9 177.9 L444.0 177.2 L445.2 176.6 L446.4 175.9 L447.5 175.3 L448.7 174.8 L449.9 174.3 L451.0 173.9 L452.2 173.5 L453.4 173.2 L454.5 172.9 L455.7 172.6 L456.8 172.3 L458.0 171.9 L459.2 171.5 L460.3 171.0 L461.5 170.7 L462.7 170.5 L463.8 170.5 L465.0 170.7 L466.2 170.9 L467.3 171.4 L468.5 172.4 L469.6 173.5 L470.8 174.7 L472.0 175.7 L473.1 176.7 L474.3 177.7 L475.5 178.7 L476.6 179.9 L477.8 181.3 L479.0 191.5 L480.1 197.2 L481.3 201.3 L482.4 204.5 L483.6 207.1 L484.8 209.3 L485.9 211.2 L487.1 212.9 L488.3 214.5 L489.4 215.9 L490.6 217.2 L491.8 218.3 L492.9 219.3 L494.1 220.0 L495.2 220.7 L496.4 221.3 L497.6 221.9 L498.7 222.4 L499.9 222.7 L501.1 223.0 L501.4 223.0 L502.5 222.3 L503.7 221.7 L504.8 221.2 L506.0 220.7 L507.2 220.3 L508.3 219.9 L509.5 219.6 L510.7 219.3 L511.8 219.1 L513.0 218.9 L514.2 218.9 L515.3 218.9 L516.5 219.0 L517.6 219.1 L518.8 219.3 L520.0 219.4 L521.1 219.5 L522.3 219.6 L523.5 219.6 L524.6 219.7 L525.8 219.7 L527.0 219.8 L528.1 219.8 L529.3 219.9 L530.4 219.9 L531.6 219.9 L532.8 220.0 L533.9 220.0 L535.1 220.0 L536.3 220.0 L537.4 220.0 L538.6 220.0 L539.8 220.0 L540.9 220.0 L542.1 220.0 L543.2 220.0 L544.4 220.0 L545.6 220.0 L546.7 220.0 L547.9 220.0 L549.1 220.0 L550.2 220.0 L551.4 220.0 L552.6 220.0 L553.7 220.0 L554.9 220.0 L556.0 220.0 L557.2 220.0 L558.4 220.0 L559.5 220.0 L560.7 220.0 L561.9 220.0 L563.0 220.0 L564.2 220.0 L565.4 220.0 L566.2 220.0 L566.2 222.5 L565.4 222.5 L564.2 222.5 L563.0 222.5 L561.9 222.5 L560.7 222.5 L559.5 222.5 L558.4 222.5 L557.2 222.5 L556.0 222.5 L554.9 222.5 L553.7 222.5 L552.6 222.5 L551.4 222.5 L550.2 222.5 L549.1 222.5 L547.9 222.5 L546.7 222.5 L545.6 222.5 L544.4 222.5 L543.2 222.5 L542.1 222.5 L540.9 222.5 L539.8 222.5 L538.6 222.5 L537.4 222.5 L536.3 222.5 L535.1 222.5 L533.9 222.5 L532.8 222.4 L531.6 222.4 L530.4 222.4 L529.3 222.3 L528.1 222.3 L527.0 222.2 L525.8 222.2 L524.6 222.1 L523.5 222.0 L522.3 222.0 L521.1 221.9 L520.0 221.7 L518.8 221.6 L517.6 221.4 L516.5 221.3 L515.3 221.3 L514.2 221.3 L513.0 221.4 L511.8 221.6 L510.7 221.8 L509.5 222.1 L508.3 222.3 L507.2 222.6 L506.0 223.1 L504.8 223.6 L503.7 224.2 L502.5 224.9 L501.4 225.6 L501.1 225.5 L499.9 225.2 L498.7 224.8 L497.6 224.3 L496.4 223.7 L495.2 223.0 L494.1 222.4 L492.9 221.6 L491.8 220.7 L490.6 219.6 L489.4 218.5 L488.3 217.2 L487.1 215.8 L485.9 214.2 L484.8 212.5 L483.6 210.7 L482.4 208.7 L481.3 206.0 L480.1 202.2 L479.0 198.3 L477.8 194.7 L476.6 193.4 L475.5 192.3 L474.3 191.5 L473.1 190.7 L472.0 190.0 L470.8 189.1 L469.6 188.1 L468.5 187.1 L467.3 186.3 L466.2 185.8 L465.0 185.7 L463.8 185.6 L462.7 185.6 L461.5 185.7 L460.3 186.0 L459.2 186.3 L458.0 186.6 L456.8 186.9 L455.7 187.2 L454.5 187.5 L453.4 187.8 L452.2 188.2 L451.0 188.6 L449.9 189.0 L448.7 189.5 L447.5 190.0 L446.4 190.5 L445.2 191.1 L444.0 191.6 L442.9 192.2 L441.7 192.7 L440.6 193.2 L439.4 193.8 L438.2 194.3 L437.1 194.9 L435.9 195.4 L434.7 195.8 L433.6 196.2 L432.4 196.6 L431.2 196.9 L430.1 197.3 L428.9 197.8 L427.8 198.4 L426.6 199.7 L425.4 200.7 L424.3 200.8 L423.1 200.7 L421.9 200.6 L420.8 200.2 Z" fill="#1b7570" fill-opacity="0.27"/>
<path d="M420.8 194.0 L421.9 193.2 L423.1 193.5 L424.3 194.2 L425.4 194.4 L426.6 192.8 L427.8 191.7 L428.9 191.0 L430.1 190.4 L431.2 190.0 L432.4 189.5 L433.6 189.1 L434.7 188.7 L435.9 188.1 L437.1 187.6 L438.2 187.0 L439.4 186.4 L440.6 185.8 L441.7 185.1 L442.9 184.6 L444.0 183.9 L445.2 183.3 L446.4 182.7 L447.5 182.0 L448.7 181.5 L449.9 181.0 L451.0 180.6 L452.2 180.2 L453.4 179.8 L454.5 179.5 L455.7 179.2 L456.8 178.9 L458.0 178.6 L459.2 178.2 L460.3 177.9 L461.5 177.6 L462.7 177.5 L463.8 177.6 L465.0 177.8 L466.2 178.1 L467.3 178.7 L468.5 179.7 L469.6 180.8 L470.8 181.9 L472.0 182.9 L473.1 183.9 L474.3 184.8 L475.5 185.8 L476.6 186.9 L477.8 188.2 L479.0 195.0 L480.1 199.8 L481.3 203.5 L482.4 206.3 L483.6 208.7 L484.8 210.8 L485.9 212.6 L487.1 214.2 L488.3 215.7 L489.4 217.1 L490.6 218.3 L491.8 219.4 L492.9 220.4 L494.1 221.2 L495.2 221.9 L496.4 222.5 L497.6 223.0 L498.7 223.5 L499.9 224.0 L501.1 224.3 L501.4 224.4 L502.5 223.9 L503.7 223.3 L504.8 222.7 L506.0 222.0 L507.2 221.4 L508.3 221.0 L509.5 220.6 L510.7 220.2 L511.8 220.0 L513.0 220.0 L514.2 220.0 L515.3 220.0 L516.5 220.0 L517.6 220.2 L518.8 220.3 L520.0 220.5 L521.1 220.7 L522.3 220.8 L523.5 220.8 L524.6 220.9 L525.8 220.9 L527.0 221.0 L528.1 221.0 L529.3 221.1 L530.4 221.1 L531.6 221.1 L532.8 221.2 L533.9 221.2 L535.1 221.2 L536.3 221.2 L537.4 221.2 L538.6 221.2 L539.8 221.2 L540.9 221.2 L542.1 221.2 L543.2 221.2 L544.4 221.2 L545.6 221.2 L546.7 221.2 L547.9 221.2 L549.1 221.2 L550.2 221.2 L551.4 221.2 L552.6 221.2 L553.7 221.2 L554.9 221.2 L556.0 221.2 L557.2 221.2 L558.4 221.2 L559.5 221.2 L560.7 221.2 L561.9 221.2 L563.0 221.2 L564.2 221.2 L565.4 221.2 L566.2 221.2" fill="none" stroke="#146b66" stroke-width="1.6" stroke-linejoin="round"/>
</g>
<rect x="413.50" y="140.00" width="160.00" height="92.40" fill="none" stroke="#b3b3b3" stroke-width="0.5"/>
<line x1="410.90" x2="413.50" y1="155.20" y2="155.20" stroke="#b3b3b3" stroke-width="0.4"/>
<text x="408.90" y="157.85" font-size="7.8" fill="#4d4d4d" text-anchor="end">0.020</text>
<line x1="410.90" x2="413.50" y1="178.80" y2="178.80" stroke="#b3b3b3" stroke-width="0.4"/>
<text x="408.90" y="181.45" font-size="7.8" fill="#4d4d4d" text-anchor="end">0.015</text>
<line x1="410.90" x2="413.50" y1="202.50" y2="202.50" stroke="#b3b3b3" stroke-width="0.4"/>
<text x="408.90" y="205.15" font-size="7.8" fill="#4d4d4d" text-anchor="end">0.010</text>
<line x1="410.90" x2="413.50" y1="226.10" y2="226.10" stroke="#b3b3b3" stroke-width="0.4"/>
<text x="408.90" y="228.75" font-size="7.8" fill="#4d4d4d" text-anchor="end">0.005</text>
<line x1="420.77" x2="420.77" y1="232.40" y2="235.00" stroke="#b3b3b3" stroke-width="0.4"/>
<text x="420.77" y="242.70" font-size="7.8" fill="#4d4d4d" text-anchor="middle">1800</text>
<line x1="449.86" x2="449.86" y1="232.40" y2="235.00" stroke="#b3b3b3" stroke-width="0.4"/>
<text x="449.86" y="242.70" font-size="7.8" fill="#4d4d4d" text-anchor="middle">1900</text>
<line x1="478.95" x2="478.95" y1="232.40" y2="235.00" stroke="#b3b3b3" stroke-width="0.4"/>
<text x="478.95" y="242.70" font-size="7.8" fill="#4d4d4d" text-anchor="middle">2000</text>
<line x1="508.04" x2="508.04" y1="232.40" y2="235.00" stroke="#b3b3b3" stroke-width="0.4"/>
<text x="508.04" y="242.70" font-size="7.8" fill="#4d4d4d" text-anchor="middle">2100</text>
<line x1="537.13" x2="537.13" y1="232.40" y2="235.00" stroke="#b3b3b3" stroke-width="0.4"/>
<text x="537.13" y="242.70" font-size="7.8" fill="#4d4d4d" text-anchor="middle">2200</text>
<line x1="566.23" x2="566.23" y1="232.40" y2="235.00" stroke="#b3b3b3" stroke-width="0.4"/>
<text x="566.23" y="242.70" font-size="7.8" fill="#4d4d4d" text-anchor="middle">2300</text>
<clipPath id="c02"><rect x="33.50" y="264.30" width="160.00" height="92.40"/></clipPath>
<rect x="33.15" y="249.70" width="160.70" height="14.95" fill="#b3b3b3"/>
<text x="113.50" y="259.30" font-size="7.9" fill="#fff" text-anchor="middle">Detritus</text>
<g clip-path="url(#c02)">
<line x1="55.32" x2="55.32" y1="264.30" y2="356.70" stroke="#e6e6e6" stroke-width="0.4"/>
<line x1="84.41" x2="84.41" y1="264.30" y2="356.70" stroke="#e6e6e6" stroke-width="0.4"/>
<line x1="113.50" x2="113.50" y1="264.30" y2="356.70" stroke="#e6e6e6" stroke-width="0.4"/>
<line x1="142.59" x2="142.59" y1="264.30" y2="356.70" stroke="#e6e6e6" stroke-width="0.4"/>
<line x1="171.68" x2="171.68" y1="264.30" y2="356.70" stroke="#e6e6e6" stroke-width="0.4"/>
<line x1="33.50" x2="193.50" y1="289.90" y2="289.90" stroke="#e6e6e6" stroke-width="0.4"/>
<line x1="33.50" x2="193.50" y1="322.20" y2="322.20" stroke="#e6e6e6" stroke-width="0.4"/>
<line x1="33.50" x2="193.50" y1="354.60" y2="354.60" stroke="#e6e6e6" stroke-width="0.4"/>
<line x1="40.77" x2="40.77" y1="264.30" y2="356.70" stroke="#e0e0e0" stroke-width="0.65"/>
<line x1="69.86" x2="69.86" y1="264.30" y2="356.70" stroke="#e0e0e0" stroke-width="0.65"/>
<line x1="98.95" x2="98.95" y1="264.30" y2="356.70" stroke="#e0e0e0" stroke-width="0.65"/>
<line x1="128.04" x2="128.04" y1="264.30" y2="356.70" stroke="#e0e0e0" stroke-width="0.65"/>
<line x1="157.13" x2="157.13" y1="264.30" y2="356.70" stroke="#e0e0e0" stroke-width="0.65"/>
<line x1="186.23" x2="186.23" y1="264.30" y2="356.70" stroke="#e0e0e0" stroke-width="0.65"/>
<line x1="33.50" x2="193.50" y1="273.70" y2="273.70" stroke="#e0e0e0" stroke-width="0.65"/>
<line x1="33.50" x2="193.50" y1="306.10" y2="306.10" stroke="#e0e0e0" stroke-width="0.65"/>
<line x1="33.50" x2="193.50" y1="338.40" y2="338.40" stroke="#e0e0e0" stroke-width="0.65"/>
<path d="M40.8 268.7 L41.9 269.0 L43.1 269.3 L44.3 269.6 L45.4 269.8 L46.6 270.0 L47.8 270.3 L48.9 270.4 L50.1 270.6 L51.2 270.7 L52.4 270.9 L53.6 271.0 L54.7 271.1 L55.9 271.3 L57.1 271.4 L58.2 271.5 L59.4 271.7 L60.6 271.8 L61.7 271.9 L62.9 272.0 L64.0 272.2 L65.2 272.3 L66.4 272.4 L67.5 272.5 L68.7 272.7 L69.9 272.8 L71.0 272.9 L72.2 273.1 L73.4 273.2 L74.5 273.3 L75.7 273.5 L76.8 273.7 L78.0 273.8 L79.2 274.0 L80.3 274.2 L81.5 274.4 L82.7 274.6 L83.8 274.9 L85.0 275.1 L86.2 275.5 L87.3 275.9 L88.5 276.3 L89.6 276.8 L90.8 277.4 L92.0 278.0 L93.1 278.6 L94.3 279.4 L95.5 280.3 L96.6 281.3 L97.8 282.5 L98.1 282.8 L99.2 295.9 L100.4 301.5 L101.6 305.2 L102.7 308.1 L103.9 310.3 L105.1 312.3 L106.2 314.1 L107.4 315.6 L108.6 317.0 L109.7 318.2 L110.9 319.2 L112.0 320.0 L113.2 320.8 L114.4 321.7 L115.5 322.7 L116.7 320.0 L117.9 319.0 L119.0 318.4 L120.2 318.1 L121.4 318.0 L122.5 316.8 L123.7 316.0 L124.8 315.5 L126.0 315.1 L127.2 314.9 L128.3 314.8 L129.5 314.8 L130.7 314.9 L131.8 314.9 L133.0 315.0 L134.2 315.1 L135.3 315.2 L136.5 315.3 L137.6 315.4 L138.8 315.6 L140.0 315.7 L141.1 315.9 L142.3 316.0 L143.5 316.1 L144.6 316.2 L145.8 316.2 L147.0 316.3 L148.1 316.4 L149.3 316.5 L150.4 316.6 L151.6 316.6 L152.8 316.7 L153.9 316.7 L155.1 316.8 L156.3 316.8 L157.4 316.8 L158.6 316.8 L159.8 316.8 L160.9 316.8 L162.1 316.8 L163.2 316.8 L164.4 316.8 L165.6 316.8 L166.7 316.8 L167.9 316.8 L169.1 316.8 L170.2 316.8 L171.4 316.8 L172.6 316.8 L173.7 316.8 L174.9 316.8 L176.0 316.8 L177.2 316.8 L178.4 316.8 L179.5 316.8 L180.7 316.8 L181.9 316.8 L183.0 316.8 L184.2 316.8 L185.4 316.8 L186.2 316.8 L186.2 349.3 L185.4 349.3 L184.2 349.3 L183.0 349.3 L181.9 349.3 L180.7 349.3 L179.5 349.3 L178.4 349.3 L177.2 349.3 L176.0 349.3 L174.9 349.3 L173.7 349.3 L172.6 349.3 L171.4 349.3 L170.2 349.3 L169.1 349.3 L167.9 349.3 L166.7 349.3 L165.6 349.3 L164.4 349.3 L163.2 349.3 L162.1 349.3 L160.9 349.3 L159.8 349.3 L158.6 349.3 L157.4 349.3 L156.3 349.3 L155.1 349.3 L153.9 349.3 L152.8 349.2 L151.6 349.2 L150.4 349.2 L149.3 349.1 L148.1 349.1 L147.0 349.0 L145.8 349.0 L144.6 348.9 L143.5 348.8 L142.3 348.8 L141.1 348.7 L140.0 348.6 L138.8 348.4 L137.6 348.3 L136.5 348.2 L135.3 348.2 L134.2 348.2 L133.0 348.2 L131.8 348.3 L130.7 348.3 L129.5 348.4 L128.3 348.5 L127.2 348.8 L126.0 349.6 L124.8 350.4 L123.7 351.0 L122.5 351.7 L121.4 352.3 L121.1 352.2 L119.9 351.8 L118.7 351.4 L117.6 350.8 L116.4 350.2 L115.2 349.5 L114.1 348.7 L112.9 347.7 L111.8 346.5 L110.6 345.2 L109.4 343.6 L108.3 341.7 L107.1 339.6 L105.9 337.2 L104.8 334.3 L103.6 330.2 L102.4 325.0 L101.3 318.4 L100.1 311.2 L99.0 306.2 L97.8 304.3 L96.6 303.1 L95.5 301.9 L94.3 300.8 L93.1 299.8 L92.0 298.9 L90.8 298.2 L89.6 297.5 L88.5 296.9 L87.3 296.3 L86.2 295.9 L85.0 295.5 L83.8 295.2 L82.7 294.9 L81.5 294.7 L80.3 294.5 L79.2 294.3 L78.0 294.1 L76.8 293.9 L75.7 293.7 L74.5 293.5 L73.4 293.3 L72.2 293.1 L71.0 293.0 L69.9 292.8 L68.7 292.7 L67.5 292.5 L66.4 292.4 L65.2 292.3 L64.0 292.2 L62.9 292.0 L61.7 291.9 L60.6 291.8 L59.4 291.7 L58.2 291.6 L57.1 291.4 L55.9 291.3 L54.7 291.1 L53.6 290.9 L52.4 290.6 L51.2 290.4 L50.1 290.1 L48.9 289.7 L47.8 289.4 L46.6 289.1 L45.4 288.7 L44.3 288.3 L43.1 287.9 L41.9 287.5 L40.8 287.0 Z" fill="#1b7570" fill-opacity="0.21"/>
<path d="M40.8 274.5 L41.9 274.7 L43.1 275.0 L44.3 275.2 L45.4 275.4 L46.6 275.6 L47.8 275.8 L48.9 275.9 L50.1 276.1 L51.2 276.2 L52.4 276.3 L53.6 276.5 L54.7 276.6 L55.9 276.8 L57.1 276.9 L58.2 277.1 L59.4 277.2 L60.6 277.4 L61.7 277.5 L62.9 277.7 L64.0 277.8 L65.2 278.0 L66.4 278.2 L67.5 278.3 L68.7 278.5 L69.9 278.7 L71.0 278.9 L72.2 279.1 L73.4 279.3 L74.5 279.5 L75.7 279.7 L76.8 279.9 L78.0 280.1 L79.2 280.3 L80.3 280.5 L81.5 280.8 L82.7 281.1 L83.8 281.3 L85.0 281.7 L86.2 282.0 L87.3 282.4 L88.5 282.8 L89.6 283.3 L90.8 283.8 L92.0 284.4 L93.1 285.0 L94.3 285.9 L95.5 286.8 L96.6 287.9 L97.8 289.2 L99.0 297.5 L100.1 304.1 L101.3 309.7 L102.4 314.0 L103.6 317.5 L104.8 320.5 L105.9 323.1 L107.1 325.3 L108.3 327.2 L109.4 328.8 L110.6 330.2 L111.8 331.5 L112.9 332.6 L114.1 333.4 L115.2 334.1 L116.4 334.8 L117.6 335.4 L118.7 335.9 L119.9 336.3 L121.1 336.5 L121.4 336.5 L122.5 335.4 L123.7 334.4 L124.8 333.4 L126.0 332.6 L127.2 331.8 L128.3 331.1 L129.5 330.4 L130.7 329.8 L131.8 329.4 L133.0 329.3 L134.2 329.4 L135.3 329.4 L136.5 329.5 L137.6 329.7 L138.8 329.8 L140.0 330.0 L141.1 330.1 L142.3 330.2 L143.5 330.3 L144.6 330.3 L145.8 330.4 L147.0 330.5 L148.1 330.6 L149.3 330.7 L150.4 330.8 L151.6 330.8 L152.8 330.9 L153.9 330.9 L155.1 331.0 L156.3 331.0 L157.4 331.0 L158.6 331.0 L159.8 331.0 L160.9 331.0 L162.1 331.0 L163.2 331.0 L164.4 331.0 L165.6 331.0 L166.7 331.0 L167.9 331.0 L169.1 331.0 L170.2 331.0 L171.4 331.0 L172.6 331.0 L173.7 331.0 L174.9 331.0 L176.0 331.0 L177.2 331.0 L178.4 331.0 L179.5 331.0 L180.7 331.0 L181.9 331.0 L183.0 331.0 L184.2 331.0 L185.4 331.0 L186.2 331.0 L186.2 339.0 L185.4 339.0 L184.2 339.0 L183.0 339.0 L181.9 339.0 L180.7 339.0 L179.5 339.0 L178.4 339.0 L177.2 339.0 L176.0 339.0 L174.9 339.0 L173.7 339.0 L172.6 339.0 L171.4 339.0 L170.2 339.0 L169.1 339.0 L167.9 339.0 L166.7 339.0 L165.6 339.0 L164.4 339.0 L163.2 339.0 L162.1 339.0 L160.9 339.0 L159.8 339.0 L158.6 339.0 L157.4 339.0 L156.3 339.0 L155.1 339.0 L153.9 338.9 L152.8 338.9 L151.6 338.8 L150.4 338.8 L149.3 338.7 L148.1 338.6 L147.0 338.5 L145.8 338.4 L144.6 338.3 L143.5 338.3 L142.3 338.2 L141.1 338.1 L140.0 338.0 L138.8 337.9 L137.6 337.8 L136.5 337.7 L135.3 337.7 L134.2 337.7 L133.0 337.9 L131.8 338.1 L130.7 338.3 L129.5 338.6 L128.3 338.9 L127.2 339.3 L126.0 339.8 L124.8 340.5 L123.7 341.2 L122.5 342.1 L121.4 343.0 L121.1 342.9 L119.9 342.6 L118.7 342.1 L117.6 341.4 L116.4 340.7 L115.2 339.8 L114.1 339.0 L112.9 338.0 L111.8 336.7 L110.6 335.3 L109.4 333.7 L108.3 332.0 L107.1 330.0 L105.9 327.6 L104.8 325.0 L103.6 322.0 L102.4 318.5 L101.3 314.2 L100.1 308.8 L99.0 302.5 L97.8 294.5 L96.6 293.0 L95.5 291.7 L94.3 290.6 L93.1 289.7 L92.0 288.9 L90.8 288.2 L89.6 287.6 L88.5 287.1 L87.3 286.7 L86.2 286.2 L85.0 285.9 L83.8 285.5 L82.7 285.2 L81.5 285.0 L80.3 284.7 L79.2 284.4 L78.0 284.2 L76.8 284.0 L75.7 283.8 L74.5 283.6 L73.4 283.4 L72.2 283.2 L71.0 283.0 L69.9 282.8 L68.7 282.6 L67.5 282.4 L66.4 282.2 L65.2 282.1 L64.0 281.9 L62.9 281.7 L61.7 281.6 L60.6 281.4 L59.4 281.2 L58.2 281.1 L57.1 280.9 L55.9 280.8 L54.7 280.6 L53.6 280.5 L52.4 280.3 L51.2 280.2 L50.1 280.1 L48.9 279.9 L47.8 279.8 L46.6 279.6 L45.4 279.4 L44.3 279.3 L43.1 279.1 L41.9 278.9 L40.8 278.7 Z" fill="#1b7570" fill-opacity="0.27"/>
<path d="M40.8 276.5 L41.9 276.7 L43.1 277.0 L44.3 277.2 L45.4 277.4 L46.6 277.6 L47.8 277.8 L48.9 277.9 L50.1 278.1 L51.2 278.2 L52.4 278.4 L53.6 278.5 L54.7 278.6 L55.9 278.8 L57.1 278.9 L58.2 279.0 L59.4 279.1 L60.6 279.3 L61.7 279.4 L62.9 279.5 L64.0 279.7 L65.2 279.9 L66.4 280.2 L67.5 280.4 L68.7 280.6 L69.9 280.8 L71.0 281.0 L72.2 281.1 L73.4 281.2 L74.5 281.4 L75.7 281.5 L76.8 281.7 L78.0 281.8 L79.2 282.1 L80.3 282.3 L81.5 282.6 L82.7 282.8 L83.8 283.1 L85.0 283.5 L86.2 283.8 L87.3 284.2 L88.5 284.7 L89.6 285.2 L90.8 285.7 L92.0 286.4 L93.1 287.1 L94.3 287.9 L95.5 288.9 L96.6 290.1 L97.8 291.7 L99.0 300.0 L100.1 306.1 L101.3 311.6 L102.4 316.0 L103.6 319.5 L104.8 322.5 L105.9 325.2 L107.1 327.5 L108.3 329.4 L109.4 330.9 L110.6 332.3 L111.8 333.6 L112.9 334.7 L114.1 335.6 L115.2 336.2 L116.4 336.8 L117.6 337.3 L118.7 337.8 L119.9 338.3 L121.1 338.7 L121.4 338.8 L122.5 338.1 L123.7 337.3 L124.8 336.5 L126.0 335.6 L127.2 334.8 L128.3 334.2 L129.5 333.6 L130.7 333.2 L131.8 333.2 L133.0 333.2 L134.2 333.2 L135.3 333.2 L136.5 333.2 L137.6 333.4 L138.8 333.5 L140.0 333.7 L141.1 333.9 L142.3 334.0 L143.5 334.0 L144.6 334.1 L145.8 334.2 L147.0 334.2 L148.1 334.3 L149.3 334.3 L150.4 334.4 L151.6 334.4 L152.8 334.4 L153.9 334.5 L155.1 334.5 L156.3 334.5 L157.4 334.5 L158.6 334.5 L159.8 334.5 L160.9 334.5 L162.1 334.5 L163.2 334.5 L164.4 334.5 L165.6 334.5 L166.7 334.5 L167.9 334.5 L169.1 334.5 L170.2 334.5 L171.4 334.5 L172.6 334.5 L173.7 334.5 L174.9 334.5 L176.0 334.4 L177.2 334.4 L178.4 334.4 L179.5 334.4 L180.7 334.4 L181.9 334.4 L183.0 334.4 L184.2 334.3 L185.4 334.3 L186.2 334.3" fill="none" stroke="#146b66" stroke-width="1.6" stroke-linejoin="round"/>
</g>
<rect x="33.50" y="264.30" width="160.00" height="92.40" fill="none" stroke="#b3b3b3" stroke-width="0.5"/>
<line x1="30.90" x2="33.50" y1="273.70" y2="273.70" stroke="#b3b3b3" stroke-width="0.4"/>
<text x="28.90" y="276.35" font-size="7.8" fill="#4d4d4d" text-anchor="end">0.03</text>
<line x1="30.90" x2="33.50" y1="306.10" y2="306.10" stroke="#b3b3b3" stroke-width="0.4"/>
<text x="28.90" y="308.75" font-size="7.8" fill="#4d4d4d" text-anchor="end">0.02</text>
<line x1="30.90" x2="33.50" y1="338.40" y2="338.40" stroke="#b3b3b3" stroke-width="0.4"/>
<text x="28.90" y="341.05" font-size="7.8" fill="#4d4d4d" text-anchor="end">0.01</text>
<line x1="40.77" x2="40.77" y1="356.70" y2="359.30" stroke="#b3b3b3" stroke-width="0.4"/>
<text x="40.77" y="367.00" font-size="7.8" fill="#4d4d4d" text-anchor="middle">1800</text>
<line x1="69.86" x2="69.86" y1="356.70" y2="359.30" stroke="#b3b3b3" stroke-width="0.4"/>
<text x="69.86" y="367.00" font-size="7.8" fill="#4d4d4d" text-anchor="middle">1900</text>
<line x1="98.95" x2="98.95" y1="356.70" y2="359.30" stroke="#b3b3b3" stroke-width="0.4"/>
<text x="98.95" y="367.00" font-size="7.8" fill="#4d4d4d" text-anchor="middle">2000</text>
<line x1="128.04" x2="128.04" y1="356.70" y2="359.30" stroke="#b3b3b3" stroke-width="0.4"/>
<text x="128.04" y="367.00" font-size="7.8" fill="#4d4d4d" text-anchor="middle">2100</text>
<line x1="157.13" x2="157.13" y1="356.70" y2="359.30" stroke="#b3b3b3" stroke-width="0.4"/>
<text x="157.13" y="367.00" font-size="7.8" fill="#4d4d4d" text-anchor="middle">2200</text>
<line x1="186.23" x2="186.23" y1="356.70" y2="359.30" stroke="#b3b3b3" stroke-width="0.4"/>
<text x="186.23" y="367.00" font-size="7.8" fill="#4d4d4d" text-anchor="middle">2300</text>
<clipPath id="c12"><rect x="223.50" y="264.30" width="160.00" height="92.40"/></clipPath>
<rect x="223.15" y="249.70" width="160.70" height="14.95" fill="#b3b3b3"/>
<text x="303.50" y="259.30" font-size="7.9" fill="#fff" text-anchor="middle">Low-lat ocean</text>
<g clip-path="url(#c12)">
<line x1="245.32" x2="245.32" y1="264.30" y2="356.70" stroke="#e6e6e6" stroke-width="0.4"/>
<line x1="274.41" x2="274.41" y1="264.30" y2="356.70" stroke="#e6e6e6" stroke-width="0.4"/>
<line x1="303.50" x2="303.50" y1="264.30" y2="356.70" stroke="#e6e6e6" stroke-width="0.4"/>
<line x1="332.59" x2="332.59" y1="264.30" y2="356.70" stroke="#e6e6e6" stroke-width="0.4"/>
<line x1="361.68" x2="361.68" y1="264.30" y2="356.70" stroke="#e6e6e6" stroke-width="0.4"/>
<line x1="223.50" x2="383.50" y1="274.10" y2="274.10" stroke="#e6e6e6" stroke-width="0.4"/>
<line x1="223.50" x2="383.50" y1="301.50" y2="301.50" stroke="#e6e6e6" stroke-width="0.4"/>
<line x1="223.50" x2="383.50" y1="329.00" y2="329.00" stroke="#e6e6e6" stroke-width="0.4"/>
<line x1="230.77" x2="230.77" y1="264.30" y2="356.70" stroke="#e0e0e0" stroke-width="0.65"/>
<line x1="259.86" x2="259.86" y1="264.30" y2="356.70" stroke="#e0e0e0" stroke-width="0.65"/>
<line x1="288.95" x2="288.95" y1="264.30" y2="356.70" stroke="#e0e0e0" stroke-width="0.65"/>
<line x1="318.04" x2="318.04" y1="264.30" y2="356.70" stroke="#e0e0e0" stroke-width="0.65"/>
<line x1="347.13" x2="347.13" y1="264.30" y2="356.70" stroke="#e0e0e0" stroke-width="0.65"/>
<line x1="376.23" x2="376.23" y1="264.30" y2="356.70" stroke="#e0e0e0" stroke-width="0.65"/>
<line x1="223.50" x2="383.50" y1="287.80" y2="287.80" stroke="#e0e0e0" stroke-width="0.65"/>
<line x1="223.50" x2="383.50" y1="315.30" y2="315.30" stroke="#e0e0e0" stroke-width="0.65"/>
<line x1="223.50" x2="383.50" y1="342.70" y2="342.70" stroke="#e0e0e0" stroke-width="0.65"/>
<path d="M230.8 267.0 L231.9 270.5 L233.1 273.1 L234.3 275.2 L235.4 276.4 L236.6 277.3 L237.8 277.8 L238.9 277.9 L240.1 278.0 L241.2 278.1 L242.4 278.1 L243.6 278.2 L244.7 278.2 L245.9 278.2 L247.1 278.1 L248.2 278.0 L249.4 277.8 L250.6 277.6 L251.7 277.4 L252.9 277.3 L254.0 277.1 L255.2 276.9 L256.4 276.8 L257.5 276.6 L258.7 276.5 L259.9 276.5 L261.0 276.5 L262.2 276.5 L263.4 276.5 L264.5 276.5 L265.7 276.5 L266.8 276.5 L268.0 276.5 L269.2 276.6 L270.3 276.7 L271.5 276.9 L272.7 277.1 L273.8 277.4 L275.0 277.7 L276.2 278.1 L277.3 278.7 L278.5 279.3 L279.6 280.1 L280.8 281.2 L282.0 282.3 L283.1 283.4 L284.3 284.6 L285.5 286.1 L286.6 288.2 L287.8 291.2 L289.0 298.0 L290.1 308.7 L291.3 315.9 L292.4 319.6 L293.6 322.3 L294.8 324.9 L295.9 327.3 L297.1 329.4 L298.3 331.3 L299.4 332.9 L300.6 334.3 L301.8 335.6 L302.9 337.0 L304.1 338.2 L305.2 339.4 L305.8 340.0 L307.0 339.5 L308.2 339.2 L309.3 339.1 L310.5 339.0 L311.4 339.0 L312.5 338.0 L313.7 337.1 L314.8 336.6 L316.0 336.3 L317.2 336.1 L318.3 336.0 L319.5 336.0 L320.7 336.0 L321.8 336.1 L323.0 336.1 L324.2 336.2 L325.3 336.2 L326.5 336.3 L327.6 336.4 L328.8 336.5 L330.0 336.6 L331.1 336.7 L332.3 336.8 L333.5 336.8 L334.6 336.9 L335.8 337.0 L337.0 337.0 L338.1 337.1 L339.3 337.1 L340.4 337.2 L341.6 337.2 L342.8 337.2 L343.9 337.3 L345.1 337.3 L346.3 337.3 L347.4 337.3 L348.6 337.3 L349.8 337.3 L350.9 337.3 L352.1 337.3 L353.2 337.3 L354.4 337.3 L355.6 337.3 L356.7 337.3 L357.9 337.3 L359.1 337.3 L360.2 337.3 L361.4 337.3 L362.6 337.3 L363.7 337.3 L364.9 337.3 L366.0 337.3 L367.2 337.3 L368.4 337.3 L369.5 337.3 L370.7 337.3 L371.9 337.3 L373.0 337.3 L374.2 337.3 L375.4 337.3 L376.2 337.3 L376.2 350.7 L375.4 350.7 L374.2 350.7 L373.0 350.7 L371.9 350.7 L370.7 350.7 L369.5 350.7 L368.4 350.7 L367.2 350.7 L366.0 350.7 L364.9 350.7 L363.7 350.7 L362.6 350.7 L361.4 350.7 L360.2 350.7 L359.1 350.7 L357.9 350.7 L356.7 350.7 L355.6 350.7 L354.4 350.7 L353.2 350.7 L352.1 350.7 L350.9 350.7 L349.8 350.7 L348.6 350.7 L347.4 350.7 L346.3 350.7 L345.1 350.7 L343.9 350.7 L342.8 350.6 L341.6 350.6 L340.4 350.6 L339.3 350.5 L338.1 350.5 L337.0 350.4 L335.8 350.4 L334.6 350.3 L333.5 350.2 L332.3 350.2 L331.1 350.1 L330.0 349.9 L328.8 349.8 L327.6 349.6 L326.5 349.5 L325.3 349.5 L324.2 349.5 L323.0 349.6 L321.8 349.7 L320.7 349.8 L319.5 350.0 L318.3 350.2 L317.2 350.4 L316.0 350.7 L314.8 351.0 L313.7 351.2 L312.5 351.5 L311.4 351.8 L311.1 351.7 L309.9 351.2 L308.7 350.7 L307.6 350.2 L306.4 349.7 L305.2 349.2 L304.1 348.6 L302.9 348.0 L301.8 347.4 L300.6 346.7 L299.4 346.0 L298.3 345.1 L297.1 344.2 L295.9 343.3 L294.8 342.2 L293.6 340.9 L292.4 339.5 L291.3 338.0 L290.1 336.4 L289.0 335.0 L287.8 333.9 L286.6 333.1 L285.5 332.4 L284.3 331.8 L283.1 331.3 L282.0 330.9 L280.8 330.5 L279.6 330.2 L278.5 329.9 L277.3 329.6 L276.2 329.4 L275.0 329.3 L273.8 329.1 L272.7 329.1 L271.5 329.0 L270.3 328.9 L269.2 328.8 L268.0 328.8 L266.8 328.8 L265.7 328.8 L264.5 328.9 L263.4 329.0 L262.2 329.0 L261.0 329.1 L259.9 329.2 L258.7 329.3 L257.5 329.3 L256.4 329.4 L255.2 329.5 L254.0 329.6 L252.9 329.7 L251.7 329.8 L250.6 329.9 L249.4 330.0 L248.2 330.2 L247.1 330.3 L245.9 330.4 L244.7 330.6 L243.6 330.7 L242.4 330.8 L241.2 330.9 L240.1 331.0 L238.9 331.2 L237.8 331.3 L236.6 331.6 L235.4 331.8 L234.3 331.8 L233.1 331.7 L231.9 331.6 L230.8 331.3 Z" fill="#1b7570" fill-opacity="0.21"/>
<path d="M230.8 300.7 L231.9 301.6 L233.1 302.3 L234.3 302.7 L235.4 302.8 L236.6 302.7 L237.8 302.5 L238.9 302.4 L240.1 302.3 L241.2 302.3 L242.4 302.2 L243.6 302.1 L244.7 302.0 L245.9 301.9 L247.1 301.8 L248.2 301.7 L249.4 301.5 L250.6 301.4 L251.7 301.3 L252.9 301.2 L254.0 301.1 L255.2 301.0 L256.4 300.9 L257.5 300.8 L258.7 300.7 L259.9 300.7 L261.0 300.7 L262.2 300.7 L263.4 300.7 L264.5 300.7 L265.7 300.7 L266.8 300.7 L268.0 300.7 L269.2 300.7 L270.3 300.8 L271.5 300.9 L272.7 301.0 L273.8 301.1 L275.0 301.3 L276.2 301.5 L277.3 301.9 L278.5 302.3 L279.6 302.8 L280.8 303.3 L282.0 303.8 L283.1 304.5 L284.3 305.3 L285.5 306.2 L286.6 307.3 L287.8 308.7 L289.0 318.0 L290.1 323.6 L291.3 327.7 L292.4 330.7 L293.6 333.0 L294.8 335.0 L295.9 336.8 L297.1 338.3 L298.3 339.7 L299.4 340.9 L300.6 342.0 L301.8 342.9 L302.9 343.7 L304.1 344.3 L305.2 344.9 L306.4 345.5 L307.6 346.0 L308.7 346.5 L309.9 346.9 L311.1 347.2 L311.4 347.3 L312.5 346.8 L313.7 346.3 L314.8 345.8 L316.0 345.4 L317.2 345.0 L318.3 344.7 L319.5 344.4 L320.7 344.1 L321.8 343.9 L323.0 343.7 L324.2 343.7 L325.3 343.7 L326.5 343.8 L327.6 343.9 L328.8 344.0 L330.0 344.1 L331.1 344.1 L332.3 344.2 L333.5 344.2 L334.6 344.3 L335.8 344.3 L337.0 344.3 L338.1 344.4 L339.3 344.4 L340.4 344.4 L341.6 344.4 L342.8 344.5 L343.9 344.5 L345.1 344.5 L346.3 344.5 L347.4 344.5 L348.6 344.5 L349.8 344.5 L350.9 344.5 L352.1 344.5 L353.2 344.5 L354.4 344.5 L355.6 344.5 L356.7 344.5 L357.9 344.5 L359.1 344.5 L360.2 344.5 L361.4 344.5 L362.6 344.5 L363.7 344.5 L364.9 344.5 L366.0 344.5 L367.2 344.5 L368.4 344.5 L369.5 344.5 L370.7 344.5 L371.9 344.5 L373.0 344.5 L374.2 344.5 L375.4 344.5 L376.2 344.5 L376.2 346.9 L375.4 346.9 L374.2 346.9 L373.0 346.9 L371.9 346.9 L370.7 346.9 L369.5 346.9 L368.4 346.9 L367.2 346.9 L366.0 346.9 L364.9 346.9 L363.7 346.9 L362.6 346.9 L361.4 346.9 L360.2 346.9 L359.1 346.9 L357.9 346.9 L356.7 346.9 L355.6 346.9 L354.4 346.9 L353.2 346.9 L352.1 346.9 L350.9 346.9 L349.8 346.9 L348.6 346.9 L347.4 346.9 L346.3 346.9 L345.1 346.9 L343.9 346.9 L342.8 346.9 L341.6 346.8 L340.4 346.8 L339.3 346.8 L338.1 346.7 L337.0 346.7 L335.8 346.6 L334.6 346.6 L333.5 346.5 L332.3 346.5 L331.1 346.4 L330.0 346.3 L328.8 346.2 L327.6 346.1 L326.5 346.0 L325.3 346.0 L324.2 346.0 L323.0 346.2 L321.8 346.3 L320.7 346.5 L319.5 346.8 L318.3 347.0 L317.2 347.3 L316.0 347.7 L314.8 348.1 L313.7 348.6 L312.5 349.1 L311.4 349.7 L311.1 349.6 L309.9 349.3 L308.7 348.9 L307.6 348.4 L306.4 347.9 L305.2 347.3 L304.1 346.7 L302.9 346.1 L301.8 345.3 L300.6 344.5 L299.4 343.5 L298.3 342.4 L297.1 341.2 L295.9 339.8 L294.8 338.2 L293.6 336.4 L292.4 334.4 L291.3 332.1 L290.1 329.3 L289.0 326.3 L287.8 323.3 L286.6 322.6 L285.5 322.0 L284.3 321.3 L283.1 320.6 L282.0 320.0 L280.8 319.5 L279.6 319.1 L278.5 318.6 L277.3 318.2 L276.2 317.9 L275.0 317.7 L273.8 317.5 L272.7 317.4 L271.5 317.3 L270.3 317.2 L269.2 317.1 L268.0 317.1 L266.8 317.1 L265.7 317.1 L264.5 317.1 L263.4 317.1 L262.2 317.1 L261.0 317.1 L259.9 317.1 L258.7 317.1 L257.5 317.2 L256.4 317.3 L255.2 317.4 L254.0 317.5 L252.9 317.6 L251.7 317.7 L250.6 317.8 L249.4 317.9 L248.2 318.0 L247.1 318.2 L245.9 318.3 L244.7 318.5 L243.6 318.7 L242.4 318.8 L241.2 319.0 L240.1 319.2 L238.9 319.5 L237.8 319.7 L236.6 319.9 L235.4 320.1 L234.3 320.0 L233.1 319.6 L231.9 318.9 L230.8 317.9 Z" fill="#1b7570" fill-opacity="0.27"/>
<path d="M230.8 310.0 L231.9 310.9 L233.1 311.6 L234.3 312.0 L235.4 312.1 L236.6 311.9 L237.8 311.7 L238.9 311.5 L240.1 311.2 L241.2 311.0 L242.4 310.8 L243.6 310.7 L244.7 310.5 L245.9 310.3 L247.1 310.2 L248.2 310.0 L249.4 309.9 L250.6 309.8 L251.7 309.7 L252.9 309.6 L254.0 309.5 L255.2 309.4 L256.4 309.3 L257.5 309.2 L258.7 309.1 L259.9 309.1 L261.0 309.1 L262.2 309.1 L263.4 309.1 L264.5 309.1 L265.7 309.1 L266.8 309.1 L268.0 309.1 L269.2 309.1 L270.3 309.2 L271.5 309.3 L272.7 309.4 L273.8 309.5 L275.0 309.7 L276.2 309.9 L277.3 310.3 L278.5 310.7 L279.6 311.2 L280.8 311.7 L282.0 312.2 L283.1 312.9 L284.3 313.6 L285.5 314.4 L286.6 315.3 L287.8 316.3 L289.0 322.5 L290.1 326.3 L291.3 329.8 L292.4 332.6 L293.6 334.8 L294.8 336.7 L295.9 338.4 L297.1 339.8 L298.3 341.1 L299.4 342.3 L300.6 343.3 L301.8 344.1 L302.9 344.9 L304.1 345.5 L305.2 346.2 L306.4 346.7 L307.6 347.2 L308.7 347.6 L309.9 348.1 L311.1 348.4 L311.4 348.5 L312.5 348.0 L313.7 347.5 L314.8 347.0 L316.0 346.6 L317.2 346.2 L318.3 345.8 L319.5 345.4 L320.7 345.1 L321.8 344.8 L323.0 344.8 L324.2 344.8 L325.3 344.8 L326.5 344.8 L327.6 344.9 L328.8 345.0 L330.0 345.1 L331.1 345.2 L332.3 345.3 L333.5 345.3 L334.6 345.4 L335.8 345.4 L337.0 345.5 L338.1 345.5 L339.3 345.6 L340.4 345.6 L341.6 345.6 L342.8 345.7 L343.9 345.7 L345.1 345.7 L346.3 345.7 L347.4 345.7 L348.6 345.7 L349.8 345.7 L350.9 345.7 L352.1 345.7 L353.2 345.7 L354.4 345.7 L355.6 345.7 L356.7 345.7 L357.9 345.7 L359.1 345.7 L360.2 345.7 L361.4 345.7 L362.6 345.7 L363.7 345.7 L364.9 345.7 L366.0 345.7 L367.2 345.7 L368.4 345.7 L369.5 345.7 L370.7 345.7 L371.9 345.7 L373.0 345.7 L374.2 345.7 L375.4 345.7 L376.2 345.7" fill="none" stroke="#146b66" stroke-width="1.6" stroke-linejoin="round"/>
</g>
<rect x="223.50" y="264.30" width="160.00" height="92.40" fill="none" stroke="#b3b3b3" stroke-width="0.5"/>
<line x1="220.90" x2="223.50" y1="287.80" y2="287.80" stroke="#b3b3b3" stroke-width="0.4"/>
<text x="218.90" y="290.45" font-size="7.8" fill="#4d4d4d" text-anchor="end">0.006</text>
<line x1="220.90" x2="223.50" y1="315.30" y2="315.30" stroke="#b3b3b3" stroke-width="0.4"/>
<text x="218.90" y="317.95" font-size="7.8" fill="#4d4d4d" text-anchor="end">0.004</text>
<line x1="220.90" x2="223.50" y1="342.70" y2="342.70" stroke="#b3b3b3" stroke-width="0.4"/>
<text x="218.90" y="345.35" font-size="7.8" fill="#4d4d4d" text-anchor="end">0.002</text>
<line x1="230.77" x2="230.77" y1="356.70" y2="359.30" stroke="#b3b3b3" stroke-width="0.4"/>
<text x="230.77" y="367.00" font-size="7.8" fill="#4d4d4d" text-anchor="middle">1800</text>
<line x1="259.86" x2="259.86" y1="356.70" y2="359.30" stroke="#b3b3b3" stroke-width="0.4"/>
<text x="259.86" y="367.00" font-size="7.8" fill="#4d4d4d" text-anchor="middle">1900</text>
<line x1="288.95" x2="288.95" y1="356.70" y2="359.30" stroke="#b3b3b3" stroke-width="0.4"/>
<text x="288.95" y="367.00" font-size="7.8" fill="#4d4d4d" text-anchor="middle">2000</text>
<line x1="318.04" x2="318.04" y1="356.70" y2="359.30" stroke="#b3b3b3" stroke-width="0.4"/>
<text x="318.04" y="367.00" font-size="7.8" fill="#4d4d4d" text-anchor="middle">2100</text>
<line x1="347.13" x2="347.13" y1="356.70" y2="359.30" stroke="#b3b3b3" stroke-width="0.4"/>
<text x="347.13" y="367.00" font-size="7.8" fill="#4d4d4d" text-anchor="middle">2200</text>
<line x1="376.23" x2="376.23" y1="356.70" y2="359.30" stroke="#b3b3b3" stroke-width="0.4"/>
<text x="376.23" y="367.00" font-size="7.8" fill="#4d4d4d" text-anchor="middle">2300</text>
<clipPath id="c22"><rect x="413.50" y="264.30" width="160.00" height="92.40"/></clipPath>
<rect x="413.15" y="249.70" width="160.70" height="14.95" fill="#b3b3b3"/>
<text x="493.50" y="259.30" font-size="7.9" fill="#fff" text-anchor="middle">High-lat ocean</text>
<g clip-path="url(#c22)">
<line x1="435.32" x2="435.32" y1="264.30" y2="356.70" stroke="#e6e6e6" stroke-width="0.4"/>
<line x1="464.41" x2="464.41" y1="264.30" y2="356.70" stroke="#e6e6e6" stroke-width="0.4"/>
<line x1="493.50" x2="493.50" y1="264.30" y2="356.70" stroke="#e6e6e6" stroke-width="0.4"/>
<line x1="522.59" x2="522.59" y1="264.30" y2="356.70" stroke="#e6e6e6" stroke-width="0.4"/>
<line x1="551.68" x2="551.68" y1="264.30" y2="356.70" stroke="#e6e6e6" stroke-width="0.4"/>
<line x1="413.50" x2="573.50" y1="273.00" y2="273.00" stroke="#e6e6e6" stroke-width="0.4"/>
<line x1="413.50" x2="573.50" y1="300.40" y2="300.40" stroke="#e6e6e6" stroke-width="0.4"/>
<line x1="413.50" x2="573.50" y1="327.90" y2="327.90" stroke="#e6e6e6" stroke-width="0.4"/>
<line x1="413.50" x2="573.50" y1="355.30" y2="355.30" stroke="#e6e6e6" stroke-width="0.4"/>
<line x1="420.77" x2="420.77" y1="264.30" y2="356.70" stroke="#e0e0e0" stroke-width="0.65"/>
<line x1="449.86" x2="449.86" y1="264.30" y2="356.70" stroke="#e0e0e0" stroke-width="0.65"/>
<line x1="478.95" x2="478.95" y1="264.30" y2="356.70" stroke="#e0e0e0" stroke-width="0.65"/>
<line x1="508.04" x2="508.04" y1="264.30" y2="356.70" stroke="#e0e0e0" stroke-width="0.65"/>
<line x1="537.13" x2="537.13" y1="264.30" y2="356.70" stroke="#e0e0e0" stroke-width="0.65"/>
<line x1="566.23" x2="566.23" y1="264.30" y2="356.70" stroke="#e0e0e0" stroke-width="0.65"/>
<line x1="413.50" x2="573.50" y1="286.70" y2="286.70" stroke="#e0e0e0" stroke-width="0.65"/>
<line x1="413.50" x2="573.50" y1="314.20" y2="314.20" stroke="#e0e0e0" stroke-width="0.65"/>
<line x1="413.50" x2="573.50" y1="341.60" y2="341.60" stroke="#e0e0e0" stroke-width="0.65"/>
<path d="M420.8 336.3 L421.9 333.5 L423.1 330.4 L424.3 327.1 L425.4 323.3 L426.6 319.7 L427.8 316.6 L428.9 313.6 L430.1 310.8 L431.2 308.0 L432.4 305.5 L433.6 303.6 L434.7 301.9 L435.9 300.1 L437.1 298.2 L438.2 296.4 L439.4 294.5 L440.6 292.7 L441.7 290.8 L442.9 289.1 L444.0 287.2 L445.2 285.3 L446.4 283.5 L447.5 281.7 L448.7 280.1 L449.9 278.7 L451.0 277.5 L452.2 276.4 L453.4 275.4 L454.5 274.4 L455.7 273.5 L456.8 272.7 L458.0 271.8 L459.2 270.9 L460.3 270.0 L461.5 269.4 L462.7 269.0 L463.8 269.1 L465.0 269.6 L466.2 271.3 L467.3 273.3 L468.5 275.1 L469.6 277.1 L470.8 279.0 L472.0 280.7 L473.1 282.2 L474.3 283.6 L475.5 285.2 L476.6 287.4 L477.8 290.3 L478.7 300.0 L479.8 304.0 L481.0 309.1 L482.2 314.7 L483.3 318.5 L484.5 321.6 L485.6 324.3 L486.8 326.8 L488.0 329.0 L489.1 330.9 L490.3 332.4 L491.5 333.6 L492.6 334.8 L493.8 336.2 L495.0 337.9 L495.8 339.3 L497.0 338.8 L498.2 338.6 L499.3 338.5 L500.5 338.4 L501.4 338.4 L502.5 337.6 L503.7 336.9 L504.8 336.4 L506.0 336.0 L507.2 335.7 L508.3 335.6 L509.5 335.6 L510.7 335.7 L511.8 335.9 L513.0 336.0 L514.2 336.2 L515.3 336.3 L516.5 336.5 L517.6 336.6 L518.8 336.8 L520.0 337.0 L521.1 337.2 L522.3 337.3 L523.5 337.4 L524.6 337.4 L525.8 337.5 L527.0 337.5 L528.1 337.6 L529.3 337.6 L530.4 337.7 L531.6 337.7 L532.8 337.7 L533.9 337.8 L535.1 337.8 L536.3 337.8 L537.4 337.8 L538.6 337.8 L539.8 337.8 L540.9 337.8 L542.1 337.8 L543.2 337.8 L544.4 337.8 L545.6 337.8 L546.7 337.8 L547.9 337.8 L549.1 337.8 L550.2 337.8 L551.4 337.8 L552.6 337.8 L553.7 337.8 L554.9 337.8 L556.0 337.8 L557.2 337.8 L558.4 337.8 L559.5 337.8 L560.7 337.8 L561.9 337.8 L563.0 337.8 L564.2 337.8 L565.4 337.8 L566.2 337.8 L566.2 348.5 L565.4 348.5 L564.2 348.5 L563.0 348.5 L561.9 348.5 L560.7 348.5 L559.5 348.5 L558.4 348.5 L557.2 348.5 L556.0 348.5 L554.9 348.5 L553.7 348.5 L552.6 348.5 L551.4 348.5 L550.2 348.5 L549.1 348.5 L547.9 348.5 L546.7 348.5 L545.6 348.5 L544.4 348.5 L543.2 348.5 L542.1 348.5 L540.9 348.5 L539.8 348.5 L538.6 348.5 L537.4 348.5 L536.3 348.5 L535.1 348.5 L533.9 348.4 L532.8 348.4 L531.6 348.3 L530.4 348.3 L529.3 348.2 L528.1 348.1 L527.0 348.1 L525.8 348.0 L524.6 347.9 L523.5 347.9 L522.3 347.8 L521.1 347.7 L520.0 347.6 L518.8 347.5 L517.6 347.4 L516.5 347.3 L515.3 347.3 L514.2 347.3 L513.0 347.5 L511.8 347.6 L510.7 347.8 L509.5 348.0 L508.3 348.2 L507.2 348.5 L506.0 348.7 L504.8 349.0 L503.7 349.3 L502.5 349.6 L501.4 349.9 L501.1 349.8 L499.9 349.3 L498.7 348.8 L497.6 348.2 L496.4 347.7 L495.2 347.2 L494.1 346.6 L492.9 346.0 L491.8 345.4 L490.6 344.7 L489.4 343.8 L488.3 342.7 L487.1 341.7 L485.9 340.5 L484.8 339.3 L483.6 337.9 L482.4 336.3 L481.3 334.5 L480.1 332.3 L479.0 330.5 L477.8 329.3 L476.6 328.4 L475.5 327.6 L474.3 326.8 L473.1 326.1 L472.0 325.5 L470.8 324.8 L469.6 324.0 L468.5 323.3 L467.3 322.7 L466.2 322.2 L465.0 321.8 L463.8 321.5 L462.7 321.4 L461.5 321.6 L460.3 322.0 L459.2 322.5 L458.0 323.0 L456.8 323.4 L455.7 323.8 L454.5 324.3 L453.4 324.8 L452.2 325.2 L451.0 325.8 L449.9 326.3 L448.7 326.9 L447.5 327.5 L446.4 328.2 L445.2 328.9 L444.0 329.6 L442.9 330.3 L441.7 331.1 L440.6 331.8 L439.4 332.6 L438.2 333.4 L437.1 334.2 L435.9 335.1 L434.7 335.9 L433.6 336.8 L432.4 337.8 L431.2 338.7 L430.1 339.7 L428.9 340.8 L427.8 342.0 L426.6 343.4 L425.4 344.9 L424.3 346.4 L423.1 348.0 L421.9 349.6 L420.8 351.3 Z" fill="#1b7570" fill-opacity="0.21"/>
<path d="M420.8 343.0 L421.9 339.9 L423.1 336.9 L424.3 334.2 L425.4 331.5 L426.6 329.1 L427.8 326.8 L428.9 324.8 L430.1 322.9 L431.2 321.1 L432.4 319.4 L433.6 317.8 L434.7 316.2 L435.9 314.8 L437.1 313.4 L438.2 312.0 L439.4 310.7 L440.6 309.5 L441.7 308.3 L442.9 307.2 L444.0 306.1 L445.2 305.1 L446.4 304.1 L447.5 303.1 L448.7 302.3 L449.9 301.5 L451.0 300.8 L452.2 300.2 L453.4 299.6 L454.5 299.1 L455.7 298.5 L456.8 298.0 L458.0 297.3 L459.2 296.4 L460.3 295.6 L461.5 294.9 L462.7 294.5 L463.8 294.6 L465.0 295.1 L466.2 295.9 L467.3 297.0 L468.5 298.2 L469.6 299.6 L470.8 301.0 L472.0 302.3 L473.1 303.4 L474.3 304.5 L475.5 305.6 L476.6 306.8 L477.8 308.2 L479.0 315.0 L480.1 320.1 L481.3 324.3 L482.4 327.5 L483.6 329.9 L484.8 332.0 L485.9 333.8 L487.1 335.5 L488.3 336.9 L489.4 338.2 L490.6 339.3 L491.8 340.3 L492.9 341.1 L494.1 341.8 L495.2 342.5 L496.4 343.1 L497.6 343.6 L498.7 344.1 L499.9 344.5 L501.1 344.7 L501.4 344.8 L502.5 344.3 L503.7 343.7 L504.8 343.3 L506.0 342.8 L507.2 342.4 L508.3 342.1 L509.5 341.8 L510.7 341.5 L511.8 341.2 L513.0 341.0 L514.2 341.0 L515.3 341.0 L516.5 341.1 L517.6 341.2 L518.8 341.3 L520.0 341.4 L521.1 341.5 L522.3 341.6 L523.5 341.6 L524.6 341.7 L525.8 341.7 L527.0 341.8 L528.1 341.8 L529.3 341.9 L530.4 341.9 L531.6 341.9 L532.8 342.0 L533.9 342.0 L535.1 342.0 L536.3 342.0 L537.4 342.0 L538.6 342.0 L539.8 342.0 L540.9 342.0 L542.1 342.0 L543.2 342.0 L544.4 342.0 L545.6 342.0 L546.7 342.0 L547.9 342.0 L549.1 342.0 L550.2 342.0 L551.4 342.0 L552.6 342.0 L553.7 342.0 L554.9 342.0 L556.0 342.0 L557.2 342.0 L558.4 342.0 L559.5 342.0 L560.7 342.0 L561.9 342.0 L563.0 342.0 L564.2 342.0 L565.4 342.0 L566.2 342.0 L566.2 344.4 L565.4 344.4 L564.2 344.4 L563.0 344.4 L561.9 344.4 L560.7 344.4 L559.5 344.4 L558.4 344.4 L557.2 344.4 L556.0 344.4 L554.9 344.4 L553.7 344.4 L552.6 344.4 L551.4 344.4 L550.2 344.4 L549.1 344.4 L547.9 344.4 L546.7 344.4 L545.6 344.4 L544.4 344.4 L543.2 344.4 L542.1 344.4 L540.9 344.4 L539.8 344.4 L538.6 344.4 L537.4 344.4 L536.3 344.4 L535.1 344.4 L533.9 344.4 L532.8 344.3 L531.6 344.3 L530.4 344.3 L529.3 344.2 L528.1 344.2 L527.0 344.1 L525.8 344.1 L524.6 344.0 L523.5 343.9 L522.3 343.9 L521.1 343.8 L520.0 343.6 L518.8 343.5 L517.6 343.3 L516.5 343.2 L515.3 343.2 L514.2 343.2 L513.0 343.4 L511.8 343.6 L510.7 343.8 L509.5 344.1 L508.3 344.3 L507.2 344.6 L506.0 345.0 L504.8 345.5 L503.7 346.1 L502.5 346.7 L501.4 347.3 L501.1 347.2 L499.9 347.0 L498.7 346.6 L497.6 346.1 L496.4 345.6 L495.2 345.0 L494.1 344.3 L492.9 343.6 L491.8 342.8 L490.6 341.8 L489.4 340.8 L488.3 339.6 L487.1 338.3 L485.9 336.9 L484.8 335.2 L483.6 333.3 L482.4 331.2 L481.3 328.6 L480.1 325.5 L479.0 322.5 L477.8 320.0 L476.6 318.7 L475.5 317.7 L474.3 316.9 L473.1 316.2 L472.0 315.4 L470.8 314.5 L469.6 313.5 L468.5 312.4 L467.3 311.4 L466.2 310.3 L465.0 309.3 L463.8 308.7 L462.7 308.5 L461.5 308.8 L460.3 309.3 L459.2 309.9 L458.0 310.5 L456.8 311.1 L455.7 311.7 L454.5 312.3 L453.4 313.0 L452.2 313.6 L451.0 314.3 L449.9 315.0 L448.7 315.7 L447.5 316.4 L446.4 317.2 L445.2 318.0 L444.0 318.8 L442.9 319.6 L441.7 320.4 L440.6 321.3 L439.4 322.1 L438.2 323.0 L437.1 324.0 L435.9 325.0 L434.7 326.0 L433.6 327.2 L432.4 328.4 L431.2 329.8 L430.1 331.1 L428.9 332.6 L427.8 334.2 L426.6 336.0 L425.4 337.9 L424.3 340.0 L423.1 342.1 L421.9 344.3 L420.8 346.7 Z" fill="#1b7570" fill-opacity="0.27"/>
<path d="M420.8 345.2 L421.9 342.7 L423.1 340.9 L424.3 339.4 L425.4 337.3 L426.6 333.8 L427.8 331.1 L428.9 329.1 L430.1 327.4 L431.2 325.9 L432.4 324.6 L433.6 323.3 L434.7 322.1 L435.9 320.9 L437.1 319.7 L438.2 318.6 L439.4 317.5 L440.6 316.4 L441.7 315.4 L442.9 314.3 L444.0 313.3 L445.2 312.3 L446.4 311.3 L447.5 310.4 L448.7 309.5 L449.9 308.8 L451.0 308.3 L452.2 307.8 L453.4 307.2 L454.5 306.4 L455.7 305.5 L456.8 304.8 L458.0 304.1 L459.2 303.3 L460.3 302.6 L461.5 302.1 L462.7 301.8 L463.8 302.0 L465.0 302.6 L466.2 303.8 L467.3 305.1 L468.5 306.3 L469.6 307.5 L470.8 308.7 L472.0 309.7 L473.1 310.6 L474.3 311.4 L475.5 312.2 L476.6 313.2 L477.8 314.3 L479.0 319.5 L480.1 323.0 L481.3 326.4 L482.4 329.3 L483.6 331.6 L484.8 333.5 L485.9 335.2 L487.1 336.8 L488.3 338.2 L489.4 339.4 L490.6 340.5 L491.8 341.5 L492.9 342.3 L494.1 343.0 L495.2 343.7 L496.4 344.2 L497.6 344.7 L498.7 345.1 L499.9 345.6 L501.1 345.9 L501.4 346.0 L502.5 345.5 L503.7 345.0 L504.8 344.5 L506.0 344.0 L507.2 343.5 L508.3 343.1 L509.5 342.7 L510.7 342.3 L511.8 342.0 L513.0 342.0 L514.2 342.0 L515.3 342.0 L516.5 342.0 L517.6 342.1 L518.8 342.3 L520.0 342.4 L521.1 342.6 L522.3 342.7 L523.5 342.7 L524.6 342.8 L525.8 342.9 L527.0 342.9 L528.1 343.0 L529.3 343.0 L530.4 343.1 L531.6 343.1 L532.8 343.1 L533.9 343.2 L535.1 343.2 L536.3 343.2 L537.4 343.2 L538.6 343.2 L539.8 343.2 L540.9 343.2 L542.1 343.2 L543.2 343.2 L544.4 343.2 L545.6 343.2 L546.7 343.2 L547.9 343.2 L549.1 343.2 L550.2 343.2 L551.4 343.2 L552.6 343.2 L553.7 343.2 L554.9 343.2 L556.0 343.2 L557.2 343.2 L558.4 343.2 L559.5 343.2 L560.7 343.2 L561.9 343.2 L563.0 343.2 L564.2 343.2 L565.4 343.2 L566.2 343.2" fill="none" stroke="#146b66" stroke-width="1.6" stroke-linejoin="round"/>
</g>
<rect x="413.50" y="264.30" width="160.00" height="92.40" fill="none" stroke="#b3b3b3" stroke-width="0.5"/>
<line x1="410.90" x2="413.50" y1="286.70" y2="286.70" stroke="#b3b3b3" stroke-width="0.4"/>
<text x="408.90" y="289.35" font-size="7.8" fill="#4d4d4d" text-anchor="end">3e-04</text>
<line x1="410.90" x2="413.50" y1="314.20" y2="314.20" stroke="#b3b3b3" stroke-width="0.4"/>
<text x="408.90" y="316.85" font-size="7.8" fill="#4d4d4d" text-anchor="end">2e-04</text>
<line x1="410.90" x2="413.50" y1="341.60" y2="341.60" stroke="#b3b3b3" stroke-width="0.4"/>
<text x="408.90" y="344.25" font-size="7.8" fill="#4d4d4d" text-anchor="end">1e-04</text>
<line x1="420.77" x2="420.77" y1="356.70" y2="359.30" stroke="#b3b3b3" stroke-width="0.4"/>
<text x="420.77" y="367.00" font-size="7.8" fill="#4d4d4d" text-anchor="middle">1800</text>
<line x1="449.86" x2="449.86" y1="356.70" y2="359.30" stroke="#b3b3b3" stroke-width="0.4"/>
<text x="449.86" y="367.00" font-size="7.8" fill="#4d4d4d" text-anchor="middle">1900</text>
<line x1="478.95" x2="478.95" y1="356.70" y2="359.30" stroke="#b3b3b3" stroke-width="0.4"/>
<text x="478.95" y="367.00" font-size="7.8" fill="#4d4d4d" text-anchor="middle">2000</text>
<line x1="508.04" x2="508.04" y1="356.70" y2="359.30" stroke="#b3b3b3" stroke-width="0.4"/>
<text x="508.04" y="367.00" font-size="7.8" fill="#4d4d4d" text-anchor="middle">2100</text>
<line x1="537.13" x2="537.13" y1="356.70" y2="359.30" stroke="#b3b3b3" stroke-width="0.4"/>
<text x="537.13" y="367.00" font-size="7.8" fill="#4d4d4d" text-anchor="middle">2200</text>
<line x1="566.23" x2="566.23" y1="356.70" y2="359.30" stroke="#b3b3b3" stroke-width="0.4"/>
<text x="566.23" y="367.00" font-size="7.8" fill="#4d4d4d" text-anchor="middle">2300</text>
<text x="303.5" y="377.9" font-size="9.75" fill="#000" text-anchor="middle">Year</text>
<text transform="translate(7.1,186.3) rotate(-90)" font-size="9.75" fill="#000" text-anchor="middle">Source fraction of CO<tspan font-size="6.4" dy="1.8">2</tspan><tspan dy="-1.8"> in atmosphere</tspan></text>
</svg></body></html>
